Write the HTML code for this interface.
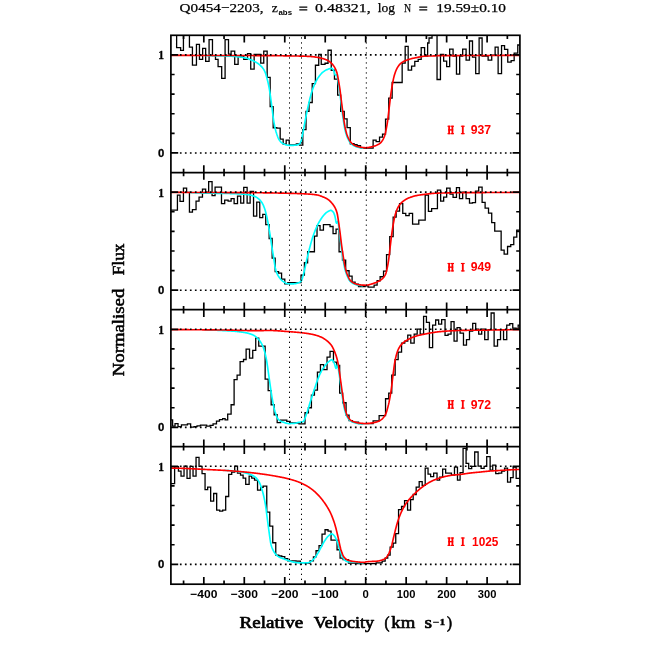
<!DOCTYPE html>
<html><head><meta charset="utf-8"><title>Q0454-2203</title>
<style>html,body{margin:0;padding:0;background:#fff;}svg{display:block;will-change:transform;font-family:"Liberation Sans",sans-serif;}</style></head>
<body>
<svg width="654" height="654" viewBox="0 0 654 654">
<rect width="654" height="654" fill="#fff"/>
<defs>
<clipPath id="c0"><rect x="170.9" y="35.3" width="349.0" height="137.25"/></clipPath>
<clipPath id="c1"><rect x="170.9" y="172.55" width="349.0" height="137.14999999999998"/></clipPath>
<clipPath id="c2"><rect x="170.9" y="309.7" width="349.0" height="137.0"/></clipPath>
<clipPath id="c3"><rect x="170.9" y="446.7" width="349.0" height="137.50000000000006"/></clipPath>
</defs>
<g clip-path="url(#c0)" fill="none" stroke-linejoin="miter">
<path d="M170.90,30.00H176.62V47.63H180.62V50.43H183.43V30.00H189.44V47.03H192.44V65.05H196.45V44.42H199.45V59.44H202.66V48.43H205.66V61.45H209.07V39.61H212.47V55.64H215.48V59.44H218.08V66.66H221.69V78.47H225.09V39.61H228.50V54.04H231.10V51.03H234.71V64.45H238.11V56.04H243.72V59.44H247.53V53.64H250.73V69.06H254.14V54.44H260.75V63.05H263.75V51.03H267.16V77.47H270.16V106.72H273.17V127.75H276.77V128.15H280.18V139.17H283.18V144.17H286.19V140.17H289.19V144.78H292.59V144.78H296.30V143.97H299.51V145.18H302.81V129.55H306.02V111.32H309.02V102.51H312.22V83.68H315.43V65.25H318.73V54.44H321.24V64.45H325.04V63.25H328.05V50.23H331.25V70.26H334.46V79.07H337.66V95.10H340.67V111.32H344.27V118.94H347.08V127.55H350.28V143.77H354.09V144.57H357.09V145.58H360.50V147.78H364.10V148.18H373.12V140.17H376.12V141.57H379.53V137.16H382.53V134.16H385.54V119.14H388.74V98.10H392.15V82.48H402.16V63.05H405.17V46.43H408.17V70.06H411.58V66.06H414.78V61.45H418.19V59.44H421.19V47.63H424.60V56.04H427.63V43.02H429.03V38.01H432.03V30.00H437.04V79.48H440.45V54.44H443.65V61.05H446.66V66.66H449.66V49.03H453.07V56.04H456.47V74.07H459.68V56.04H462.68V49.03H466.09V60.05H469.49V41.02H472.50V57.04H475.70V73.67H479.11V38.01H482.11V56.04H488.12V60.05H491.72V55.04H495.13V47.03H498.13V73.67H501.54V45.62H504.54V49.43H507.75V62.05H511.15V60.65H514.16V53.04H517.76V45.02H519.77V45.02H519.90" stroke="#000" stroke-width="1.3"/>
<path d="M205.00,55.50L205.50,55.52L206.00,55.53L206.50,55.55L207.00,55.56L207.50,55.58L208.00,55.59L208.50,55.61L209.00,55.62L209.50,55.64L210.00,55.65L210.50,55.67L211.00,55.68L211.50,55.69L212.00,55.71L212.50,55.72L213.00,55.74L213.50,55.75L214.00,55.76L214.50,55.77L215.00,55.78L215.50,55.80L216.00,55.81L216.50,55.82L217.00,55.83L217.50,55.84L218.00,55.85L218.50,55.86L219.00,55.87L219.50,55.88L220.00,55.89L220.50,55.90L221.00,55.92L221.50,55.93L222.00,55.94L222.50,55.95L223.00,55.96L223.50,55.97L224.00,55.99L224.50,56.00L225.00,56.01L225.50,56.03L226.00,56.04L226.50,56.06L227.00,56.07L227.50,56.09L228.00,56.11L228.50,56.13L229.00,56.14L229.50,56.16L230.00,56.18L230.50,56.20L231.00,56.23L231.50,56.25L232.00,56.28L232.50,56.31L233.00,56.34L233.50,56.38L234.00,56.42L234.50,56.45L235.00,56.50L235.50,56.54L236.00,56.58L236.50,56.63L237.00,56.68L237.50,56.73L238.00,56.78L238.50,56.83L239.00,56.89L239.50,56.95L240.00,57.01L240.50,57.08L241.00,57.15L241.50,57.23L242.00,57.31L242.50,57.39L243.00,57.48L243.50,57.57L244.00,57.67L244.50,57.77L245.00,57.88L245.50,57.99L246.00,58.10L246.50,58.23L247.00,58.37L247.50,58.52L248.00,58.69L248.50,58.87L249.00,59.06L249.50,59.25L250.00,59.46L250.50,59.67L251.00,59.88L251.50,60.10L252.00,60.31L252.50,60.53L253.00,60.75L253.50,60.98L254.00,61.21L254.50,61.46L255.00,61.71L255.50,61.98L256.00,62.26L256.50,62.55L257.00,62.86L257.50,63.19L258.00,63.53L258.50,63.90L259.00,64.28L259.50,64.69L260.00,65.12L260.50,65.58L261.00,66.07L261.50,66.59L262.00,67.15L262.50,67.75L263.00,68.41L263.50,69.15L264.00,69.98L264.50,70.90L265.00,71.96L265.50,73.27L266.00,74.80L266.50,76.51L267.00,78.36L267.50,80.30L268.00,82.32L268.50,84.58L269.00,87.10L269.50,89.88L270.00,93.04L270.50,96.54L271.00,100.25L271.50,104.02L272.00,107.74L272.50,111.72L273.00,115.78L273.50,119.51L274.00,122.53L274.50,125.19L275.00,127.62L275.50,129.79L276.00,131.69L276.50,133.33L277.00,134.84L277.50,136.23L278.00,137.50L278.50,138.62L279.00,139.57L279.50,140.34L280.00,141.00L280.50,141.59L281.00,142.11L281.50,142.57L282.00,142.97L282.50,143.30L283.00,143.59L283.50,143.86L284.00,144.11L284.50,144.33L285.00,144.53L285.50,144.70L286.00,144.83L286.50,144.94L287.00,145.04L287.50,145.13L288.00,145.21L288.50,145.29L289.00,145.34L289.50,145.38L290.00,145.40L290.50,145.40L291.00,145.39L291.50,145.38L292.00,145.37L292.50,145.35L293.00,145.33L293.50,145.31L294.00,145.29L294.50,145.26L295.00,145.22L295.50,145.17L296.00,145.10L296.50,145.02L297.00,144.93L297.50,144.83L298.00,144.71L298.50,144.57L299.00,144.33L299.50,143.96L300.00,143.46L300.50,142.77L301.00,141.39L301.50,139.40L302.00,137.03L302.50,134.52L303.00,132.10L303.50,129.68L304.00,127.06L304.50,124.34L305.00,121.60L305.50,118.93L306.00,116.40L306.50,113.93L307.00,111.50L307.50,109.12L308.00,106.81L308.50,104.60L309.00,102.45L309.50,100.33L310.00,98.28L310.50,96.33L311.00,94.51L311.50,92.85L312.00,91.28L312.50,89.78L313.00,88.35L313.50,87.00L314.00,85.72L314.50,84.52L315.00,83.40L315.50,82.35L316.00,81.35L316.50,80.40L317.00,79.50L317.50,78.66L318.00,77.87L318.50,77.14L319.00,76.46L319.50,75.79L320.00,75.16L320.50,74.55L321.00,73.98L321.50,73.43L322.00,72.93L322.50,72.47L323.00,72.05L323.50,71.68L324.00,71.32L324.50,70.98L325.00,70.66L325.50,70.36L326.00,70.09L326.50,69.83L327.00,69.61L327.50,69.41L328.00,69.23L328.50,69.06L329.00,68.89L329.50,68.74L330.00,68.60L330.50,68.50L331.00,68.43L331.50,68.40L332.00,68.56L332.50,68.97L333.00,69.58L333.50,70.30L334.00,71.33L334.50,73.20L335.00,74.85L335.50,75.17L336.00,74.96L336.50,74.73L337.00,75.05L337.50,78.07L338.00,81.17L338.50,84.04L339.00,87.12L339.50,90.45L340.00,94.13L340.50,98.28L341.00,102.40L341.50,106.42L342.00,110.38L342.50,114.27L343.00,117.93L343.50,121.37L344.00,124.51L344.50,127.38L345.00,129.81L345.50,131.86L346.00,133.67L346.50,135.30L347.00,136.70L347.50,137.90L348.00,138.98L348.50,139.97L349.00,140.86L349.50,141.65L350.00,142.33L350.50,142.93L351.00,143.47L351.50,143.96L352.00,144.42L352.50,144.83L353.00,145.20L353.50,145.52L354.00,145.80L354.50,146.05L355.00,146.28L355.50,146.49L356.00,146.69L356.50,146.87L357.00,147.02L357.50,147.16L358.00,147.28L358.50,147.38L359.00,147.48L359.50,147.58L360.00,147.67L360.50,147.76L361.00,147.84L361.50,147.92L362.00,147.99L362.50,148.05" stroke="#00ffff" stroke-width="1.65" stroke-linecap="round" stroke-linejoin="round"/>
<path d="M171.01,55.44L171.51,55.44L172.01,55.44L172.51,55.44L173.01,55.44L173.51,55.44L174.01,55.44L174.51,55.44L175.01,55.44L175.51,55.44L176.01,55.44L176.51,55.44L177.01,55.44L177.51,55.44L178.01,55.44L178.51,55.44L179.01,55.44L179.51,55.44L180.01,55.44L180.51,55.44L181.01,55.44L181.51,55.44L182.01,55.44L182.51,55.44L183.01,55.44L183.51,55.44L184.01,55.44L184.51,55.44L185.01,55.44L185.51,55.44L186.01,55.44L186.51,55.44L187.01,55.44L187.51,55.44L188.01,55.44L188.51,55.44L189.01,55.44L189.51,55.44L190.01,55.44L190.51,55.44L191.01,55.44L191.51,55.44L192.01,55.44L192.51,55.45L193.01,55.45L193.51,55.45L194.01,55.45L194.51,55.45L195.01,55.45L195.51,55.45L196.01,55.45L196.51,55.45L197.01,55.45L197.51,55.45L198.01,55.45L198.51,55.45L199.01,55.45L199.51,55.45L200.01,55.45L200.51,55.45L201.01,55.45L201.51,55.45L202.01,55.45L202.51,55.45L203.01,55.45L203.51,55.45L204.01,55.45L204.51,55.45L205.01,55.45L205.51,55.46L206.01,55.46L206.51,55.46L207.01,55.46L207.51,55.46L208.01,55.46L208.51,55.46L209.01,55.46L209.51,55.46L210.01,55.46L210.51,55.46L211.01,55.46L211.51,55.46L212.01,55.46L212.51,55.46L213.01,55.46L213.51,55.46L214.01,55.47L214.51,55.47L215.01,55.47L215.51,55.47L216.01,55.47L216.51,55.47L217.01,55.47L217.51,55.47L218.01,55.47L218.51,55.47L219.01,55.47L219.51,55.47L220.01,55.47L220.51,55.47L221.01,55.48L221.51,55.48L222.01,55.48L222.51,55.48L223.01,55.48L223.51,55.48L224.01,55.48L224.51,55.48L225.01,55.48L225.51,55.48L226.01,55.48L226.51,55.48L227.01,55.49L227.51,55.49L228.01,55.49L228.51,55.49L229.01,55.49L229.51,55.49L230.01,55.49L230.51,55.49L231.01,55.49L231.51,55.49L232.01,55.49L232.51,55.50L233.01,55.50L233.51,55.50L234.01,55.50L234.51,55.50L235.01,55.50L235.51,55.50L236.01,55.50L236.51,55.50L237.01,55.50L237.51,55.51L238.01,55.51L238.51,55.51L239.01,55.51L239.51,55.51L240.01,55.51L240.51,55.51L241.01,55.51L241.51,55.51L242.01,55.52L242.51,55.52L243.01,55.52L243.51,55.52L244.01,55.52L244.51,55.52L245.01,55.52L245.51,55.52L246.01,55.53L246.51,55.53L247.01,55.53L247.51,55.53L248.01,55.53L248.51,55.53L249.01,55.53L249.51,55.54L250.01,55.54L250.51,55.54L251.01,55.54L251.51,55.54L252.01,55.54L252.51,55.54L253.01,55.54L253.51,55.55L254.01,55.55L254.51,55.55L255.01,55.55L255.51,55.55L256.01,55.55L256.51,55.56L257.01,55.56L257.51,55.56L258.01,55.56L258.51,55.56L259.01,55.56L259.51,55.56L260.01,55.57L260.51,55.57L261.01,55.57L261.51,55.57L262.01,55.57L262.51,55.57L263.01,55.58L263.51,55.58L264.01,55.58L264.51,55.58L265.01,55.58L265.51,55.58L266.01,55.59L266.51,55.59L267.01,55.59L267.51,55.59L268.01,55.59L268.51,55.59L269.01,55.60L269.51,55.60L270.01,55.60L270.51,55.60L271.01,55.61L271.51,55.61L272.01,55.61L272.51,55.62L273.01,55.62L273.51,55.63L274.01,55.63L274.51,55.64L275.01,55.65L275.51,55.66L276.01,55.66L276.51,55.67L277.01,55.68L277.51,55.69L278.01,55.70L278.51,55.71L279.01,55.72L279.51,55.73L280.01,55.74L280.51,55.75L281.01,55.76L281.51,55.77L282.01,55.78L282.51,55.79L283.01,55.80L283.51,55.81L284.01,55.82L284.51,55.83L285.01,55.84L285.51,55.85L286.01,55.86L286.51,55.87L287.01,55.88L287.51,55.89L288.01,55.90L288.51,55.90L289.01,55.91L289.51,55.92L290.01,55.93L290.51,55.93L291.01,55.94L291.51,55.95L292.01,55.95L292.51,55.96L293.01,55.97L293.51,55.97L294.01,55.98L294.51,55.98L295.01,55.99L295.51,56.00L296.01,56.01L296.51,56.01L297.01,56.02L297.51,56.03L298.01,56.04L298.51,56.05L299.01,56.05L299.51,56.06L300.01,56.07L300.51,56.08L301.01,56.10L301.51,56.11L302.01,56.12L302.51,56.13L303.01,56.15L303.51,56.16L304.01,56.18L304.51,56.20L305.01,56.22L305.51,56.24L306.01,56.26L306.51,56.28L307.01,56.31L307.51,56.33L308.01,56.36L308.51,56.39L309.01,56.41L309.51,56.44L310.01,56.47L310.51,56.51L311.01,56.54L311.51,56.58L312.01,56.63L312.51,56.68L313.01,56.73L313.51,56.79L314.01,56.85L314.51,56.92L315.01,56.99L315.51,57.06L316.01,57.13L316.51,57.21L317.01,57.29L317.51,57.37L318.01,57.45L318.51,57.54L319.01,57.64L319.51,57.74L320.01,57.86L320.51,57.97L321.01,58.10L321.51,58.23L322.01,58.36L322.51,58.50L323.01,58.64L323.51,58.79L324.01,58.95L324.51,59.11L325.01,59.29L325.51,59.47L326.01,59.67L326.51,59.88L327.01,60.11L327.51,60.35L328.01,60.61L328.51,60.90L329.01,61.23L329.51,61.59L330.01,61.98L330.51,62.39L331.01,62.84L331.51,63.31L332.01,63.81L332.51,64.37L333.01,64.98L333.51,65.64L334.01,66.37L334.51,67.17L335.01,68.06L335.51,69.05L336.01,70.20L336.51,71.54L337.01,73.09L337.51,75.14L338.01,77.86L338.51,80.75L339.01,83.62L339.51,86.66L340.01,89.96L340.51,93.74L341.01,97.86L341.51,101.98L342.01,105.96L342.51,109.97L343.01,113.86L343.51,117.46L344.01,120.87L344.51,124.11L345.01,126.98L345.51,129.32L346.01,131.37L346.51,133.21L347.01,134.83L347.51,136.23L348.01,137.42L348.51,138.50L349.01,139.49L349.51,140.37L350.01,141.16L350.51,141.85L351.01,142.44L351.51,142.97L352.01,143.47L352.51,143.92L353.01,144.34L353.51,144.70L354.01,145.03L354.51,145.30L355.01,145.55L355.51,145.78L356.01,146.00L356.51,146.19L357.01,146.37L357.51,146.53L358.01,146.67L358.51,146.78L359.01,146.88L359.51,146.98L360.01,147.08L360.51,147.17L361.01,147.26L361.51,147.35L362.01,147.42L362.51,147.49L363.01,147.55L363.51,147.61L364.01,147.65L364.51,147.68L365.01,147.70L365.51,147.70L366.01,147.69L366.51,147.67L367.01,147.63L367.51,147.58L368.01,147.52L368.51,147.45L369.01,147.37L369.51,147.28L370.01,147.18L370.51,147.07L371.01,146.96L371.51,146.85L372.01,146.73L372.51,146.60L373.01,146.47L373.51,146.34L374.01,146.21L374.51,146.07L375.01,145.91L375.51,145.74L376.01,145.55L376.51,145.34L377.01,145.11L377.51,144.86L378.01,144.59L378.51,144.30L379.01,143.98L379.51,143.63L380.01,143.26L380.51,142.85L381.01,142.36L381.51,141.77L382.01,141.10L382.51,140.33L383.01,139.47L383.51,138.51L384.01,137.45L384.51,136.19L385.01,134.53L385.51,132.52L386.01,130.20L386.51,127.64L387.01,124.88L387.51,121.74L388.01,117.81L388.51,113.49L389.01,109.20L389.51,105.10L390.01,100.86L390.51,96.74L391.01,93.00L391.51,89.76L392.01,86.67L392.51,83.75L393.01,81.06L393.51,78.66L394.01,76.59L394.51,74.83L395.01,73.23L395.51,71.77L396.01,70.46L396.51,69.31L397.01,68.32L397.51,67.46L398.01,66.66L398.51,65.92L399.01,65.24L399.51,64.62L400.01,64.07L400.51,63.58L401.01,63.16L401.51,62.80L402.01,62.47L402.51,62.15L403.01,61.85L403.51,61.58L404.01,61.32L404.51,61.07L405.01,60.84L405.51,60.63L406.01,60.42L406.51,60.23L407.01,60.05L407.51,59.87L408.01,59.70L408.51,59.53L409.01,59.38L409.51,59.22L410.01,59.08L410.51,58.93L411.01,58.80L411.51,58.67L412.01,58.54L412.51,58.42L413.01,58.30L413.51,58.19L414.01,58.08L414.51,57.97L415.01,57.87L415.51,57.77L416.01,57.68L416.51,57.58L417.01,57.48L417.51,57.38L418.01,57.28L418.51,57.18L419.01,57.08L419.51,56.98L420.01,56.88L420.51,56.78L421.01,56.69L421.51,56.60L422.01,56.51L422.51,56.43L423.01,56.36L423.51,56.29L424.01,56.23L424.51,56.17L425.01,56.13L425.51,56.09L426.01,56.06L426.51,56.05L427.01,56.04L427.51,56.04L428.01,56.04L428.51,56.04L429.01,56.04L429.51,56.04L430.01,56.04L430.51,56.04L431.01,56.03L431.51,56.02L432.01,56.00L432.51,55.98L433.01,55.96L433.51,55.93L434.01,55.91L434.51,55.88L435.01,55.85L435.51,55.82L436.01,55.79L436.51,55.76L437.01,55.74L437.51,55.71L438.01,55.69L438.51,55.67L439.01,55.66L439.51,55.65L440.01,55.64L440.51,55.64L441.01,55.63L441.51,55.63L442.01,55.63L442.51,55.62L443.01,55.62L443.51,55.62L444.01,55.62L444.51,55.61L445.01,55.61L445.51,55.61L446.01,55.60L446.51,55.60L447.01,55.60L447.51,55.60L448.01,55.59L448.51,55.59L449.01,55.59L449.51,55.59L450.01,55.58L450.51,55.58L451.01,55.58L451.51,55.58L452.01,55.57L452.51,55.57L453.01,55.57L453.51,55.57L454.01,55.56L454.51,55.56L455.01,55.56L455.51,55.56L456.01,55.56L456.51,55.55L457.01,55.55L457.51,55.55L458.01,55.55L458.51,55.55L459.01,55.54L459.51,55.54L460.01,55.54L460.51,55.54L461.01,55.54L461.51,55.53L462.01,55.53L462.51,55.53L463.01,55.53L463.51,55.53L464.01,55.52L464.51,55.52L465.01,55.52L465.51,55.52L466.01,55.52L466.51,55.52L467.01,55.51L467.51,55.51L468.01,55.51L468.51,55.51L469.01,55.51L469.51,55.51L470.01,55.50L470.51,55.50L471.01,55.50L471.51,55.50L472.01,55.50L472.51,55.50L473.01,55.50L473.51,55.49L474.01,55.49L474.51,55.49L475.01,55.49L475.51,55.49L476.01,55.49L476.51,55.49L477.01,55.48L477.51,55.48L478.01,55.48L478.51,55.48L479.01,55.48L479.51,55.48L480.01,55.48L480.51,55.48L481.01,55.48L481.51,55.47L482.01,55.47L482.51,55.47L483.01,55.47L483.51,55.47L484.01,55.47L484.51,55.47L485.01,55.47L485.51,55.47L486.01,55.47L486.51,55.46L487.01,55.46L487.51,55.46L488.01,55.46L488.51,55.46L489.01,55.46L489.51,55.46L490.01,55.46L490.51,55.46L491.01,55.46L491.51,55.46L492.01,55.46L492.51,55.46L493.01,55.45L493.51,55.45L494.01,55.45L494.51,55.45L495.01,55.45L495.51,55.45L496.01,55.45L496.51,55.45L497.01,55.45L497.51,55.45L498.01,55.45L498.51,55.45L499.01,55.45L499.51,55.45L500.01,55.45L500.51,55.45L501.01,55.45L501.51,55.45L502.01,55.45L502.51,55.44L503.01,55.44L503.51,55.44L504.01,55.44L504.51,55.44L505.01,55.44L505.51,55.44L506.01,55.44L506.51,55.44L507.01,55.44L507.51,55.44L508.01,55.44L508.51,55.44L509.01,55.44L509.51,55.44L510.01,55.44L510.51,55.44L511.01,55.44L511.51,55.44L512.01,55.44L512.51,55.44L513.01,55.44L513.51,55.44L514.01,55.44L514.51,55.44L515.01,55.44L515.51,55.44L516.01,55.44L516.51,55.44L517.01,55.44L517.51,55.44L518.01,55.44L518.51,55.44L519.01,55.44L519.51,55.44" stroke="#ff0000" stroke-width="1.65" stroke-linejoin="round"/>
<path d="M179.9,54.90H512.9" stroke="#000" stroke-width="1.6" stroke-dasharray="1.7 3.3"/>
<path d="M179.9,152.95H512.9" stroke="#000" stroke-width="1.6" stroke-dasharray="1.7 3.3"/>
<path d="M289.50,37.30V172.55" stroke="#000" stroke-width="1.0" stroke-dasharray="1.3 3.7"/>
<path d="M301.50,37.30V172.55" stroke="#000" stroke-width="1.0" stroke-dasharray="1.3 3.7"/>
<path d="M366.30,37.30V172.55" stroke="#000" stroke-width="1.0" stroke-dasharray="1.3 3.7"/>
</g>
<g clip-path="url(#c1)" fill="none" stroke-linejoin="miter">
<path d="M170.90,210.07H177.42V195.04H180.02V201.45H183.43V188.03H186.63V192.44H189.44V212.07H192.44V209.67H196.05V201.05H199.05V197.05H202.46V189.03H205.66V192.04H208.67V181.62H212.07V195.64H215.08V187.03H221.49V203.66H224.69V200.05H228.10V201.05H231.10V198.65H234.11V203.66H237.51V196.04H240.72V203.06H243.72V187.43H247.13V203.06H250.13V191.44H253.54V216.07H256.74V202.05H259.74V217.68H262.75V214.47H265.75V224.69H269.16V238.51H272.16V258.14H275.17V271.56H278.57V273.16H281.58V279.17H284.78V283.78H287.79V282.58H296.00V282.58H301.01V275.17H304.41V262.75H307.62V251.73H314.43V236.11H317.03V225.69H320.04V230.10H323.44V224.69H330.05V226.49H333.06V233.70H336.06V229.09H339.07V251.73H342.47V260.14H345.68V270.76H349.08V276.17H352.09V282.18H355.09V284.18H358.50V286.58H365.11V285.78H368.11V287.18H374.12V285.18H377.12V280.77H380.13V276.77H383.53V271.16H386.54V254.53H389.74V236.71H393.15V217.08H396.15V211.07H399.56V203.66H402.76V213.47H405.77V215.67H409.17V213.47H412.58V224.09H418.79V220.08H425.20V195.04H428.43V211.47H431.63V208.66H437.44V190.04H440.65V201.05H443.65V197.05H446.66V188.03H450.06V194.04H453.07V197.45H456.47V187.63H459.48V198.65H462.68V192.04H466.09V198.65H469.49V203.06H472.50V202.65H475.50V191.04H478.70V187.03H482.11V202.45H485.11V208.06H488.52V213.07H491.72V222.69H494.73V231.10H501.14V250.13H504.14V254.13H507.55V246.52H510.75V244.72H513.76V237.11H516.76V230.10H519.77V230.10H519.90" stroke="#000" stroke-width="1.3"/>
<path d="M190.00,192.50L190.50,192.53L191.00,192.56L191.50,192.59L192.00,192.62L192.50,192.64L193.00,192.67L193.50,192.70L194.00,192.73L194.50,192.76L195.00,192.78L195.50,192.81L196.00,192.84L196.50,192.86L197.00,192.88L197.50,192.91L198.00,192.93L198.50,192.95L199.00,192.97L199.50,192.98L200.00,193.00L200.50,193.01L201.00,193.03L201.50,193.04L202.00,193.06L202.50,193.07L203.00,193.08L203.50,193.09L204.00,193.10L204.50,193.12L205.00,193.13L205.50,193.14L206.00,193.15L206.50,193.16L207.00,193.17L207.50,193.18L208.00,193.18L208.50,193.19L209.00,193.20L209.50,193.21L210.00,193.22L210.50,193.23L211.00,193.23L211.50,193.24L212.00,193.25L212.50,193.26L213.00,193.26L213.50,193.27L214.00,193.28L214.50,193.28L215.00,193.29L215.50,193.30L216.00,193.30L216.50,193.31L217.00,193.32L217.50,193.32L218.00,193.33L218.50,193.34L219.00,193.35L219.50,193.35L220.00,193.36L220.50,193.37L221.00,193.38L221.50,193.38L222.00,193.39L222.50,193.40L223.00,193.41L223.50,193.42L224.00,193.43L224.50,193.44L225.00,193.45L225.50,193.46L226.00,193.47L226.50,193.48L227.00,193.49L227.50,193.50L228.00,193.51L228.50,193.52L229.00,193.54L229.50,193.55L230.00,193.56L230.50,193.58L231.00,193.59L231.50,193.61L232.00,193.62L232.50,193.64L233.00,193.66L233.50,193.68L234.00,193.69L234.50,193.71L235.00,193.73L235.50,193.75L236.00,193.77L236.50,193.79L237.00,193.81L237.50,193.84L238.00,193.86L238.50,193.89L239.00,193.91L239.50,193.94L240.00,193.97L240.50,194.00L241.00,194.03L241.50,194.06L242.00,194.10L242.50,194.13L243.00,194.17L243.50,194.21L244.00,194.25L244.50,194.29L245.00,194.33L245.50,194.38L246.00,194.42L246.50,194.47L247.00,194.52L247.50,194.58L248.00,194.65L248.50,194.73L249.00,194.82L249.50,194.91L250.00,195.02L250.50,195.14L251.00,195.26L251.50,195.40L252.00,195.54L252.50,195.69L253.00,195.85L253.50,196.01L254.00,196.18L254.50,196.36L255.00,196.56L255.50,196.79L256.00,197.06L256.50,197.36L257.00,197.68L257.50,198.04L258.00,198.41L258.50,198.82L259.00,199.24L259.50,199.68L260.00,200.17L260.50,200.72L261.00,201.33L261.50,202.01L262.00,202.75L262.50,203.57L263.00,204.53L263.50,205.66L264.00,206.93L264.50,208.32L265.00,209.83L265.50,211.56L266.00,213.47L266.50,215.55L267.00,217.75L267.50,220.10L268.00,222.69L268.50,225.45L269.00,228.34L269.50,231.30L270.00,234.42L270.50,237.71L271.00,241.06L271.50,244.37L272.00,247.56L272.50,250.64L273.00,253.69L273.50,256.73L274.00,259.78L274.50,263.10L275.00,266.55L275.50,269.10L276.00,270.74L276.50,272.17L277.00,273.41L277.50,274.49L278.00,275.43L278.50,276.27L279.00,277.02L279.50,277.71L280.00,278.36L280.50,278.97L281.00,279.54L281.50,280.06L282.00,280.54L282.50,280.98L283.00,281.37L283.50,281.71L284.00,282.02L284.50,282.32L285.00,282.62L285.50,282.90L286.00,283.16L286.50,283.39L287.00,283.57L287.50,283.71L288.00,283.79L288.50,283.80L289.00,283.80L289.50,283.80L290.00,283.80L290.50,283.80L291.00,283.80L291.50,283.80L292.00,283.80L292.50,283.80L293.00,283.80L293.50,283.80L294.00,283.80L294.50,283.78L295.00,283.72L295.50,283.64L296.00,283.53L296.50,283.40L297.00,283.26L297.50,283.10L298.00,282.94L298.50,282.77L299.00,282.57L299.50,282.33L300.00,282.03L300.50,281.66L301.00,281.21L301.50,280.57L302.00,279.44L302.50,277.90L303.00,276.11L303.50,274.20L304.00,272.33L304.50,270.26L305.00,267.97L305.50,265.55L306.00,263.11L306.50,260.78L307.00,258.62L307.50,256.51L308.00,254.44L308.50,252.42L309.00,250.45L309.50,248.52L310.00,246.61L310.50,244.72L311.00,242.88L311.50,241.11L312.00,239.44L312.50,237.87L313.00,236.37L313.50,234.91L314.00,233.52L314.50,232.17L315.00,230.88L315.50,229.65L316.00,228.47L316.50,227.33L317.00,226.24L317.50,225.19L318.00,224.17L318.50,223.21L319.00,222.28L319.50,221.40L320.00,220.55L320.50,219.73L321.00,218.94L321.50,218.19L322.00,217.46L322.50,216.78L323.00,216.14L323.50,215.54L324.00,214.95L324.50,214.38L325.00,213.84L325.50,213.33L326.00,212.87L326.50,212.47L327.00,212.14L327.50,211.82L328.00,211.51L328.50,211.21L329.00,210.94L329.50,210.71L330.00,210.53L330.50,210.43L331.00,210.40L331.50,210.55L332.00,210.86L332.50,211.31L333.00,211.85L333.50,212.48L334.00,213.49L334.50,214.85L335.00,216.46L335.50,218.90L336.00,222.05L336.50,223.18L337.00,222.51L337.50,221.58L338.00,221.37L338.50,224.76L339.00,229.06L339.50,232.91L340.00,236.87L340.50,240.99L341.00,244.95L341.50,248.61L342.00,252.10L342.50,255.42L343.00,258.62L343.50,261.79L344.00,264.68L344.50,267.29L345.00,269.50L345.50,271.30L346.00,272.87L346.50,274.27L347.00,275.54L347.50,276.69L348.00,277.76L348.50,278.78L349.00,279.70L349.50,280.51L350.00,281.18L350.50,281.69L351.00,282.12L351.50,282.51L352.00,282.85L352.50,283.16L353.00,283.43L353.50,283.67L354.00,283.90L354.50,284.11L355.00,284.32L355.50,284.51L356.00,284.69L356.50,284.85L357.00,284.99L357.50,285.10L358.00,285.19L358.50,285.25L359.00,285.31L359.50,285.37L360.00,285.42L360.50,285.47L361.00,285.52L361.50,285.56L362.00,285.59L362.50,285.63" stroke="#00ffff" stroke-width="1.65" stroke-linecap="round" stroke-linejoin="round"/>
<path d="M171.01,192.44L171.51,192.44L172.01,192.44L172.51,192.44L173.01,192.44L173.51,192.44L174.01,192.44L174.51,192.44L175.01,192.44L175.51,192.44L176.01,192.44L176.51,192.44L177.01,192.44L177.51,192.44L178.01,192.44L178.51,192.44L179.01,192.44L179.51,192.44L180.01,192.44L180.51,192.44L181.01,192.44L181.51,192.44L182.01,192.44L182.51,192.44L183.01,192.45L183.51,192.45L184.01,192.45L184.51,192.45L185.01,192.45L185.51,192.45L186.01,192.45L186.51,192.45L187.01,192.45L187.51,192.45L188.01,192.45L188.51,192.45L189.01,192.45L189.51,192.45L190.01,192.45L190.51,192.46L191.01,192.46L191.51,192.46L192.01,192.46L192.51,192.46L193.01,192.46L193.51,192.46L194.01,192.46L194.51,192.46L195.01,192.46L195.51,192.46L196.01,192.47L196.51,192.47L197.01,192.47L197.51,192.47L198.01,192.47L198.51,192.47L199.01,192.47L199.51,192.47L200.01,192.47L200.51,192.48L201.01,192.48L201.51,192.48L202.01,192.48L202.51,192.48L203.01,192.48L203.51,192.48L204.01,192.48L204.51,192.49L205.01,192.49L205.51,192.49L206.01,192.49L206.51,192.49L207.01,192.49L207.51,192.49L208.01,192.49L208.51,192.50L209.01,192.50L209.51,192.50L210.01,192.50L210.51,192.50L211.01,192.50L211.51,192.51L212.01,192.51L212.51,192.51L213.01,192.51L213.51,192.51L214.01,192.51L214.51,192.51L215.01,192.52L215.51,192.52L216.01,192.52L216.51,192.52L217.01,192.52L217.51,192.52L218.01,192.53L218.51,192.53L219.01,192.53L219.51,192.53L220.01,192.53L220.51,192.54L221.01,192.54L221.51,192.54L222.01,192.54L222.51,192.54L223.01,192.54L223.51,192.55L224.01,192.55L224.51,192.55L225.01,192.55L225.51,192.55L226.01,192.56L226.51,192.56L227.01,192.56L227.51,192.56L228.01,192.56L228.51,192.57L229.01,192.57L229.51,192.57L230.01,192.57L230.51,192.57L231.01,192.58L231.51,192.58L232.01,192.58L232.51,192.58L233.01,192.58L233.51,192.59L234.01,192.59L234.51,192.59L235.01,192.59L235.51,192.60L236.01,192.60L236.51,192.60L237.01,192.60L237.51,192.60L238.01,192.61L238.51,192.61L239.01,192.61L239.51,192.61L240.01,192.62L240.51,192.62L241.01,192.62L241.51,192.62L242.01,192.62L242.51,192.63L243.01,192.63L243.51,192.63L244.01,192.63L244.51,192.64L245.01,192.64L245.51,192.64L246.01,192.64L246.51,192.65L247.01,192.65L247.51,192.65L248.01,192.66L248.51,192.66L249.01,192.66L249.51,192.67L250.01,192.67L250.51,192.67L251.01,192.68L251.51,192.68L252.01,192.69L252.51,192.69L253.01,192.69L253.51,192.70L254.01,192.70L254.51,192.71L255.01,192.71L255.51,192.72L256.01,192.72L256.51,192.73L257.01,192.73L257.51,192.74L258.01,192.74L258.51,192.75L259.01,192.76L259.51,192.76L260.01,192.77L260.51,192.77L261.01,192.78L261.51,192.79L262.01,192.79L262.51,192.80L263.01,192.80L263.51,192.81L264.01,192.82L264.51,192.82L265.01,192.83L265.51,192.84L266.01,192.84L266.51,192.85L267.01,192.86L267.51,192.86L268.01,192.87L268.51,192.88L269.01,192.89L269.51,192.89L270.01,192.90L270.51,192.91L271.01,192.92L271.51,192.92L272.01,192.93L272.51,192.94L273.01,192.95L273.51,192.96L274.01,192.97L274.51,192.98L275.01,192.99L275.51,193.00L276.01,193.01L276.51,193.02L277.01,193.03L277.51,193.04L278.01,193.05L278.51,193.06L279.01,193.07L279.51,193.08L280.01,193.09L280.51,193.11L281.01,193.12L281.51,193.13L282.01,193.14L282.51,193.15L283.01,193.17L283.51,193.18L284.01,193.19L284.51,193.20L285.01,193.22L285.51,193.23L286.01,193.24L286.51,193.25L287.01,193.27L287.51,193.28L288.01,193.29L288.51,193.31L289.01,193.32L289.51,193.33L290.01,193.34L290.51,193.36L291.01,193.37L291.51,193.38L292.01,193.40L292.51,193.41L293.01,193.43L293.51,193.44L294.01,193.46L294.51,193.47L295.01,193.48L295.51,193.50L296.01,193.52L296.51,193.53L297.01,193.55L297.51,193.56L298.01,193.58L298.51,193.60L299.01,193.62L299.51,193.63L300.01,193.65L300.51,193.67L301.01,193.69L301.51,193.71L302.01,193.73L302.51,193.75L303.01,193.78L303.51,193.80L304.01,193.82L304.51,193.84L305.01,193.87L305.51,193.89L306.01,193.92L306.51,193.95L307.01,193.97L307.51,194.00L308.01,194.03L308.51,194.07L309.01,194.10L309.51,194.13L310.01,194.17L310.51,194.21L311.01,194.25L311.51,194.29L312.01,194.34L312.51,194.38L313.01,194.43L313.51,194.49L314.01,194.55L314.51,194.61L315.01,194.67L315.51,194.74L316.01,194.82L316.51,194.89L317.01,194.98L317.51,195.06L318.01,195.16L318.51,195.28L319.01,195.42L319.51,195.57L320.01,195.74L320.51,195.92L321.01,196.11L321.51,196.31L322.01,196.51L322.51,196.71L323.01,196.92L323.51,197.13L324.01,197.34L324.51,197.55L325.01,197.78L325.51,198.01L326.01,198.26L326.51,198.53L327.01,198.81L327.51,199.11L328.01,199.44L328.51,199.81L329.01,200.22L329.51,200.66L330.01,201.14L330.51,201.64L331.01,202.16L331.51,202.71L332.01,203.27L332.51,203.87L333.01,204.50L333.51,205.19L334.01,205.94L334.51,206.76L335.01,207.67L335.51,208.67L336.01,209.81L336.51,211.16L337.01,212.77L337.51,215.01L338.01,218.11L338.51,221.46L339.01,224.92L339.51,228.65L340.01,232.47L340.51,236.46L341.01,240.57L341.51,244.52L342.01,248.17L342.51,251.66L343.01,255.00L343.51,258.16L344.01,261.26L344.51,264.27L345.01,266.92L345.51,269.02L346.01,270.81L346.51,272.40L347.01,273.81L347.51,275.06L348.01,276.19L348.51,277.28L349.01,278.30L349.51,279.22L350.01,280.03L350.51,280.69L351.01,281.20L351.51,281.63L352.01,282.02L352.51,282.36L353.01,282.66L353.51,282.94L354.01,283.18L354.51,283.40L355.01,283.62L355.51,283.82L356.01,284.01L356.51,284.19L357.01,284.35L357.51,284.49L358.01,284.60L358.51,284.69L359.01,284.75L359.51,284.81L360.01,284.87L360.51,284.92L361.01,284.97L361.51,285.02L362.01,285.06L362.51,285.09L363.01,285.13L363.51,285.15L364.01,285.17L364.51,285.19L365.01,285.20L365.51,285.20L366.01,285.18L366.51,285.15L367.01,285.10L367.51,285.02L368.01,284.94L368.51,284.84L369.01,284.72L369.51,284.60L370.01,284.47L370.51,284.32L371.01,284.17L371.51,284.02L372.01,283.86L372.51,283.70L373.01,283.53L373.51,283.37L374.01,283.21L374.51,283.05L375.01,282.88L375.51,282.70L376.01,282.50L376.51,282.30L377.01,282.08L377.51,281.85L378.01,281.60L378.51,281.34L379.01,281.06L379.51,280.76L380.01,280.45L380.51,280.12L381.01,279.78L381.51,279.41L382.01,279.01L382.51,278.56L383.01,278.07L383.51,277.51L384.01,276.88L384.51,276.18L385.01,275.38L385.51,274.38L386.01,272.93L386.51,271.09L387.01,268.91L387.51,266.48L388.01,263.86L388.51,260.82L389.01,256.91L389.51,252.55L390.01,248.22L390.51,244.12L391.01,239.88L391.51,235.75L392.01,232.02L392.51,228.77L393.01,225.68L393.51,222.76L394.01,220.07L394.51,217.67L395.01,215.59L395.51,213.84L396.01,212.23L396.51,210.78L397.01,209.47L397.51,208.32L398.01,207.32L398.51,206.47L399.01,205.68L399.51,204.96L400.01,204.30L400.51,203.70L401.01,203.15L401.51,202.65L402.01,202.19L402.51,201.76L403.01,201.36L403.51,200.97L404.01,200.61L404.51,200.26L405.01,199.93L405.51,199.62L406.01,199.32L406.51,199.04L407.01,198.78L407.51,198.53L408.01,198.29L408.51,198.07L409.01,197.86L409.51,197.66L410.01,197.47L410.51,197.28L411.01,197.10L411.51,196.92L412.01,196.76L412.51,196.60L413.01,196.44L413.51,196.30L414.01,196.16L414.51,196.03L415.01,195.91L415.51,195.79L416.01,195.68L416.51,195.58L417.01,195.48L417.51,195.39L418.01,195.30L418.51,195.21L419.01,195.13L419.51,195.05L420.01,194.98L420.51,194.90L421.01,194.83L421.51,194.76L422.01,194.69L422.51,194.63L423.01,194.56L423.51,194.50L424.01,194.43L424.51,194.37L425.01,194.31L425.51,194.24L426.01,194.18L426.51,194.11L427.01,194.04L427.51,193.97L428.01,193.90L428.51,193.82L429.01,193.75L429.51,193.69L430.01,193.64L430.51,193.60L431.01,193.56L431.51,193.51L432.01,193.47L432.51,193.44L433.01,193.40L433.51,193.36L434.01,193.33L434.51,193.29L435.01,193.26L435.51,193.23L436.01,193.20L436.51,193.18L437.01,193.15L437.51,193.13L438.01,193.11L438.51,193.09L439.01,193.07L439.51,193.05L440.01,193.04L440.51,193.03L441.01,193.02L441.51,193.01L442.01,192.99L442.51,192.98L443.01,192.97L443.51,192.96L444.01,192.95L444.51,192.94L445.01,192.93L445.51,192.92L446.01,192.91L446.51,192.90L447.01,192.89L447.51,192.88L448.01,192.88L448.51,192.87L449.01,192.86L449.51,192.85L450.01,192.84L450.51,192.83L451.01,192.83L451.51,192.82L452.01,192.81L452.51,192.81L453.01,192.80L453.51,192.79L454.01,192.79L454.51,192.78L455.01,192.77L455.51,192.77L456.01,192.76L456.51,192.76L457.01,192.75L457.51,192.74L458.01,192.74L458.51,192.73L459.01,192.73L459.51,192.72L460.01,192.72L460.51,192.71L461.01,192.71L461.51,192.70L462.01,192.70L462.51,192.70L463.01,192.69L463.51,192.69L464.01,192.68L464.51,192.68L465.01,192.67L465.51,192.67L466.01,192.67L466.51,192.66L467.01,192.66L467.51,192.66L468.01,192.65L468.51,192.65L469.01,192.65L469.51,192.64L470.01,192.64L470.51,192.64L471.01,192.63L471.51,192.63L472.01,192.63L472.51,192.62L473.01,192.62L473.51,192.62L474.01,192.61L474.51,192.61L475.01,192.61L475.51,192.60L476.01,192.60L476.51,192.60L477.01,192.60L477.51,192.59L478.01,192.59L478.51,192.59L479.01,192.58L479.51,192.58L480.01,192.58L480.51,192.57L481.01,192.57L481.51,192.57L482.01,192.57L482.51,192.56L483.01,192.56L483.51,192.56L484.01,192.55L484.51,192.55L485.01,192.55L485.51,192.55L486.01,192.54L486.51,192.54L487.01,192.54L487.51,192.53L488.01,192.53L488.51,192.53L489.01,192.53L489.51,192.52L490.01,192.52L490.51,192.52L491.01,192.52L491.51,192.51L492.01,192.51L492.51,192.51L493.01,192.51L493.51,192.51L494.01,192.50L494.51,192.50L495.01,192.50L495.51,192.50L496.01,192.49L496.51,192.49L497.01,192.49L497.51,192.49L498.01,192.49L498.51,192.48L499.01,192.48L499.51,192.48L500.01,192.48L500.51,192.48L501.01,192.47L501.51,192.47L502.01,192.47L502.51,192.47L503.01,192.47L503.51,192.47L504.01,192.46L504.51,192.46L505.01,192.46L505.51,192.46L506.01,192.46L506.51,192.46L507.01,192.46L507.51,192.45L508.01,192.45L508.51,192.45L509.01,192.45L509.51,192.45L510.01,192.45L510.51,192.45L511.01,192.45L511.51,192.45L512.01,192.45L512.51,192.44L513.01,192.44L513.51,192.44L514.01,192.44L514.51,192.44L515.01,192.44L515.51,192.44L516.01,192.44L516.51,192.44L517.01,192.44L517.51,192.44L518.01,192.44L518.51,192.44L519.01,192.44L519.51,192.44" stroke="#ff0000" stroke-width="1.65" stroke-linejoin="round"/>
<path d="M179.9,192.15H512.9" stroke="#000" stroke-width="1.6" stroke-dasharray="1.7 3.3"/>
<path d="M179.9,290.20H512.9" stroke="#000" stroke-width="1.6" stroke-dasharray="1.7 3.3"/>
<path d="M289.50,174.55V309.7" stroke="#000" stroke-width="1.0" stroke-dasharray="1.3 3.7"/>
<path d="M301.50,174.55V309.7" stroke="#000" stroke-width="1.0" stroke-dasharray="1.3 3.7"/>
<path d="M366.30,174.55V309.7" stroke="#000" stroke-width="1.0" stroke-dasharray="1.3 3.7"/>
</g>
<g clip-path="url(#c2)" fill="none" stroke-linejoin="miter">
<path d="M170.90,419.78H172.61V426.19H175.02V423.58H178.02V426.59H181.43V424.78H187.43V423.78H190.64V427.19H194.04V426.59H197.05V425.79H200.45V425.19H206.66V426.19H210.07V425.39H213.07V423.78H216.48V421.18H219.48V419.58H222.69V418.57H225.09V419.78H227.70V414.17H231.10V404.75H234.11V379.72H237.11V375.11H240.11V361.69H243.52V359.48H246.12V349.07H249.53V358.08H252.73V350.47H255.74V338.05H258.74V346.06H265.15V379.11H268.16V390.53H271.16V404.75H274.17V414.77H277.17V422.58H280.58V420.18H286.79V421.38H290.19V422.98H296.00V422.98H299.00V423.78H305.01V412.77H308.42V407.76H311.42V395.14H314.43V390.13H317.43V372.10H320.44V364.69H323.64V369.70H327.05V357.08H330.05V351.47H333.46V362.09H336.66V365.49H339.67V393.14H342.67V402.75H346.08V415.17H349.08V420.58H352.49V422.18H358.50V423.58H373.12V420.78H379.13V415.57H385.54V398.74H388.74V393.14H391.75V375.11H395.15V359.69H398.16V352.07H401.56V343.06H404.77V341.06H407.77V335.05H410.78V343.06H414.18V334.05H417.19V329.04H420.19V334.05H423.59V316.42H426.43V322.43H429.43V347.67H432.63V325.03H435.64V320.02H438.64V324.03H441.65V319.62H445.05V335.45H448.06V334.05H451.06V321.63H454.07V341.06H457.07V327.64H460.08V333.04H463.48V345.06H466.49V339.65H469.49V331.04H472.70V323.43H475.70V329.04H478.70V334.05H481.71V329.04H484.71V339.65H488.12V329.64H491.12V313.01H494.13V346.06H497.53V339.65H500.54V329.64H503.54V339.65H506.75V325.03H509.75V323.63H512.76V328.04H516.16V329.24H518.17V325.03H519.77V325.03H519.90" stroke="#000" stroke-width="1.3"/>
<path d="M205.06,330.04L205.56,330.04L206.06,330.04L206.56,330.04L207.06,330.05L207.56,330.05L208.06,330.06L208.56,330.06L209.06,330.07L209.56,330.08L210.06,330.09L210.56,330.10L211.06,330.11L211.56,330.12L212.06,330.13L212.56,330.15L213.06,330.16L213.56,330.18L214.06,330.19L214.56,330.21L215.06,330.23L215.56,330.24L216.06,330.26L216.56,330.28L217.06,330.30L217.56,330.32L218.06,330.34L218.56,330.36L219.06,330.39L219.56,330.41L220.06,330.43L220.56,330.46L221.06,330.48L221.56,330.50L222.06,330.53L222.56,330.56L223.06,330.58L223.56,330.61L224.06,330.63L224.56,330.66L225.06,330.69L225.56,330.72L226.06,330.74L226.56,330.77L227.06,330.80L227.56,330.83L228.06,330.86L228.56,330.89L229.06,330.92L229.56,330.95L230.06,330.98L230.56,331.01L231.06,331.04L231.56,331.07L232.06,331.10L232.56,331.14L233.06,331.17L233.56,331.21L234.06,331.25L234.56,331.29L235.06,331.34L235.56,331.38L236.06,331.43L236.56,331.48L237.06,331.53L237.56,331.59L238.06,331.64L238.56,331.70L239.06,331.76L239.56,331.82L240.06,331.88L240.56,331.95L241.06,332.02L241.56,332.09L242.06,332.16L242.56,332.23L243.06,332.31L243.56,332.39L244.06,332.47L244.56,332.55L245.06,332.63L245.56,332.72L246.06,332.82L246.56,332.92L247.06,333.03L247.56,333.15L248.06,333.27L248.56,333.41L249.06,333.55L249.56,333.70L250.06,333.86L250.56,334.02L251.06,334.20L251.56,334.39L252.06,334.59L252.56,334.80L253.06,335.01L253.56,335.25L254.06,335.53L254.56,335.84L255.06,336.18L255.56,336.55L256.06,336.96L256.56,337.39L257.06,337.85L257.56,338.34L258.06,338.86L258.56,339.40L259.06,339.96L259.56,340.56L260.06,341.23L260.56,341.97L261.06,342.79L261.56,343.68L262.06,344.65L262.56,345.71L263.06,346.85L263.56,348.14L264.06,349.65L264.56,351.37L265.06,353.28L265.56,355.38L266.06,357.64L266.56,360.21L267.06,363.27L267.56,366.69L268.06,370.30L268.56,373.94L269.06,377.45L269.56,380.85L270.06,384.35L270.56,387.87L271.06,391.31L271.56,394.58L272.06,397.57L272.56,400.32L273.06,402.99L273.56,405.54L274.06,407.90L274.56,410.01L275.06,411.82L275.56,413.37L276.06,414.84L276.56,416.19L277.06,417.37L277.56,418.34L278.06,419.06L278.56,419.55L279.06,419.99L279.56,420.37L280.06,420.72L280.56,421.03L281.06,421.30L281.56,421.54L282.06,421.76L282.56,421.96L283.06,422.14L283.56,422.31L284.06,422.48L284.56,422.65L285.06,422.81L285.56,422.96L286.06,423.10L286.56,423.23L287.06,423.35L287.56,423.44L288.06,423.51L288.56,423.56L289.06,423.58L289.56,423.58L290.06,423.58L290.56,423.57L291.06,423.55L291.56,423.54L292.06,423.51L292.56,423.49L293.06,423.46L293.56,423.42L294.06,423.38L294.56,423.34L295.06,423.29L295.56,423.23L296.06,423.17L296.56,423.00L297.06,422.76L297.56,422.58L298.06,422.48L298.56,422.39L299.06,422.33L299.56,422.27L300.06,422.22L300.56,422.17L301.06,422.11L301.56,422.04L302.06,421.95L302.56,421.83L303.06,421.68L303.56,421.25L304.06,420.44L304.56,419.35L305.06,418.06L305.56,416.64L306.06,415.18L306.56,413.77L307.06,412.40L307.56,410.91L308.06,409.31L308.56,407.64L309.06,405.94L309.56,404.24L310.06,402.58L310.56,401.00L311.06,399.44L311.56,397.90L312.06,396.37L312.56,394.85L313.06,393.33L313.56,391.82L314.06,390.32L314.56,388.79L315.06,387.23L315.56,385.68L316.06,384.14L316.56,382.65L317.06,381.21L317.56,379.86L318.06,378.58L318.56,377.34L319.06,376.14L319.56,374.98L320.06,373.87L320.56,372.82L321.06,371.83L321.56,370.91L322.06,370.04L322.56,369.21L323.06,368.42L323.56,367.66L324.06,366.95L324.56,366.27L325.06,365.62L325.56,365.00L326.06,364.39L326.56,363.80L327.06,363.24L327.56,362.72L328.06,362.24L328.56,361.81L329.06,361.41L329.56,360.99L330.06,360.59L330.56,360.24L331.06,359.97L331.56,359.82L332.06,359.86L332.56,360.26L333.06,360.94L333.56,361.80L334.06,362.74L334.56,363.96L335.06,365.84L335.56,367.63L336.06,368.49L336.56,367.53L337.06,365.45L337.56,364.18L338.06,366.18L338.56,370.15L339.06,373.50L339.56,376.98L340.06,380.61L340.56,384.32L341.06,388.00L341.56,391.62L342.06,395.09L342.56,398.43L343.06,401.69L343.56,404.70L344.06,407.24L344.56,409.45L345.06,411.35L345.56,412.99L346.06,414.40L346.56,415.61L347.06,416.65L347.56,417.55L348.06,418.37L348.56,419.08L349.06,419.66L349.56,420.14L350.06,420.55L350.56,420.90L351.06,421.22L351.56,421.51L352.06,421.76L352.56,421.99L353.06,422.19L353.56,422.37L354.06,422.54L354.56,422.70L355.06,422.86L355.56,423.00L356.06,423.13L356.56,423.24L357.06,423.34L357.56,423.43L358.06,423.49L358.56,423.55L359.06,423.61L359.56,423.67L360.06,423.72L360.56,423.77L361.06,423.81L361.56,423.86L362.06,423.89L362.56,423.93" stroke="#00ffff" stroke-width="1.65" stroke-linecap="round" stroke-linejoin="round"/>
<path d="M171.01,329.64L171.51,329.64L172.01,329.64L172.51,329.64L173.01,329.64L173.51,329.64L174.01,329.64L174.51,329.64L175.01,329.64L175.51,329.64L176.01,329.64L176.51,329.65L177.01,329.65L177.51,329.65L178.01,329.65L178.51,329.65L179.01,329.65L179.51,329.65L180.01,329.65L180.51,329.66L181.01,329.66L181.51,329.66L182.01,329.66L182.51,329.66L183.01,329.67L183.51,329.67L184.01,329.67L184.51,329.67L185.01,329.68L185.51,329.68L186.01,329.68L186.51,329.68L187.01,329.69L187.51,329.69L188.01,329.69L188.51,329.69L189.01,329.70L189.51,329.70L190.01,329.70L190.51,329.71L191.01,329.71L191.51,329.71L192.01,329.72L192.51,329.72L193.01,329.72L193.51,329.73L194.01,329.73L194.51,329.74L195.01,329.74L195.51,329.74L196.01,329.75L196.51,329.75L197.01,329.75L197.51,329.76L198.01,329.76L198.51,329.77L199.01,329.77L199.51,329.78L200.01,329.78L200.51,329.78L201.01,329.79L201.51,329.79L202.01,329.80L202.51,329.80L203.01,329.81L203.51,329.81L204.01,329.82L204.51,329.82L205.01,329.83L205.51,329.83L206.01,329.83L206.51,329.84L207.01,329.84L207.51,329.85L208.01,329.85L208.51,329.86L209.01,329.86L209.51,329.87L210.01,329.87L210.51,329.88L211.01,329.89L211.51,329.89L212.01,329.90L212.51,329.90L213.01,329.91L213.51,329.91L214.01,329.92L214.51,329.92L215.01,329.93L215.51,329.93L216.01,329.94L216.51,329.94L217.01,329.95L217.51,329.95L218.01,329.96L218.51,329.97L219.01,329.97L219.51,329.98L220.01,329.98L220.51,329.99L221.01,329.99L221.51,330.00L222.01,330.01L222.51,330.01L223.01,330.02L223.51,330.02L224.01,330.03L224.51,330.03L225.01,330.04L225.51,330.04L226.01,330.05L226.51,330.06L227.01,330.07L227.51,330.07L228.01,330.08L228.51,330.09L229.01,330.10L229.51,330.11L230.01,330.12L230.51,330.13L231.01,330.14L231.51,330.16L232.01,330.17L232.51,330.18L233.01,330.19L233.51,330.20L234.01,330.22L234.51,330.23L235.01,330.24L235.51,330.26L236.01,330.27L236.51,330.28L237.01,330.30L237.51,330.31L238.01,330.32L238.51,330.34L239.01,330.35L239.51,330.37L240.01,330.38L240.51,330.39L241.01,330.41L241.51,330.42L242.01,330.43L242.51,330.45L243.01,330.46L243.51,330.47L244.01,330.48L244.51,330.50L245.01,330.51L245.51,330.52L246.01,330.53L246.51,330.54L247.01,330.55L247.51,330.56L248.01,330.57L248.51,330.58L249.01,330.59L249.51,330.59L250.01,330.60L250.51,330.61L251.01,330.62L251.51,330.62L252.01,330.63L252.51,330.63L253.01,330.63L253.51,330.64L254.01,330.64L254.51,330.64L255.01,330.64L255.51,330.64L256.01,330.64L256.51,330.64L257.01,330.63L257.51,330.63L258.01,330.63L258.51,330.62L259.01,330.62L259.51,330.61L260.01,330.61L260.51,330.60L261.01,330.59L261.51,330.59L262.01,330.58L262.51,330.57L263.01,330.56L263.51,330.56L264.01,330.55L264.51,330.54L265.01,330.54L265.51,330.53L266.01,330.52L266.51,330.52L267.01,330.51L267.51,330.51L268.01,330.51L268.51,330.50L269.01,330.50L269.51,330.50L270.01,330.50L270.51,330.50L271.01,330.51L271.51,330.51L272.01,330.52L272.51,330.54L273.01,330.55L273.51,330.57L274.01,330.59L274.51,330.61L275.01,330.63L275.51,330.66L276.01,330.68L276.51,330.71L277.01,330.74L277.51,330.77L278.01,330.81L278.51,330.84L279.01,330.88L279.51,330.91L280.01,330.95L280.51,330.99L281.01,331.03L281.51,331.07L282.01,331.11L282.51,331.15L283.01,331.19L283.51,331.23L284.01,331.27L284.51,331.31L285.01,331.35L285.51,331.39L286.01,331.43L286.51,331.47L287.01,331.50L287.51,331.54L288.01,331.58L288.51,331.61L289.01,331.65L289.51,331.69L290.01,331.72L290.51,331.76L291.01,331.80L291.51,331.83L292.01,331.87L292.51,331.91L293.01,331.95L293.51,331.99L294.01,332.03L294.51,332.07L295.01,332.11L295.51,332.15L296.01,332.20L296.51,332.24L297.01,332.29L297.51,332.33L298.01,332.38L298.51,332.43L299.01,332.47L299.51,332.52L300.01,332.57L300.51,332.63L301.01,332.68L301.51,332.73L302.01,332.79L302.51,332.85L303.01,332.91L303.51,332.97L304.01,333.03L304.51,333.09L305.01,333.16L305.51,333.22L306.01,333.29L306.51,333.37L307.01,333.44L307.51,333.52L308.01,333.59L308.51,333.67L309.01,333.76L309.51,333.84L310.01,333.93L310.51,334.02L311.01,334.11L311.51,334.21L312.01,334.31L312.51,334.42L313.01,334.53L313.51,334.64L314.01,334.76L314.51,334.89L315.01,335.02L315.51,335.15L316.01,335.29L316.51,335.44L317.01,335.58L317.51,335.74L318.01,335.90L318.51,336.07L319.01,336.26L319.51,336.45L320.01,336.65L320.51,336.87L321.01,337.10L321.51,337.33L322.01,337.58L322.51,337.83L323.01,338.10L323.51,338.37L324.01,338.67L324.51,338.98L325.01,339.32L325.51,339.67L326.01,340.04L326.51,340.43L327.01,340.83L327.51,341.25L328.01,341.68L328.51,342.13L329.01,342.60L329.51,343.10L330.01,343.64L330.51,344.21L331.01,344.83L331.51,345.51L332.01,346.28L332.51,347.15L333.01,348.11L333.51,349.15L334.01,350.26L334.51,351.44L335.01,352.66L335.51,353.96L336.01,355.37L336.51,356.93L337.01,358.68L337.51,360.66L338.01,363.17L338.51,366.13L339.01,369.32L339.51,372.58L340.01,376.09L340.51,379.77L341.01,383.45L341.51,387.07L342.01,390.74L342.51,394.30L343.01,397.60L343.51,400.81L344.01,403.88L344.51,406.58L345.01,408.75L345.51,410.64L346.01,412.33L346.51,413.79L347.01,415.01L347.51,416.03L348.01,416.96L348.51,417.79L349.01,418.51L349.51,419.12L350.01,419.59L350.51,420.00L351.01,420.36L351.51,420.69L352.01,420.98L352.51,421.24L353.01,421.47L353.51,421.67L354.01,421.85L354.51,422.02L355.01,422.19L355.51,422.34L356.01,422.48L356.51,422.61L357.01,422.73L357.51,422.83L358.01,422.92L358.51,422.99L359.01,423.05L359.51,423.10L360.01,423.16L360.51,423.21L361.01,423.26L361.51,423.31L362.01,423.35L362.51,423.39L363.01,423.42L363.51,423.45L364.01,423.47L364.51,423.49L365.01,423.50L365.51,423.50L366.01,423.49L366.51,423.48L367.01,423.46L367.51,423.43L368.01,423.40L368.51,423.35L369.01,423.31L369.51,423.25L370.01,423.20L370.51,423.13L371.01,423.07L371.51,423.00L372.01,422.92L372.51,422.84L373.01,422.77L373.51,422.68L374.01,422.60L374.51,422.51L375.01,422.40L375.51,422.28L376.01,422.14L376.51,421.98L377.01,421.81L377.51,421.62L378.01,421.41L378.51,421.19L379.01,420.96L379.51,420.71L380.01,420.44L380.51,420.16L381.01,419.83L381.51,419.45L382.01,419.03L382.51,418.56L383.01,418.04L383.51,417.46L384.01,416.82L384.51,416.13L385.01,415.37L385.51,414.48L386.01,413.31L386.51,411.90L387.01,410.29L387.51,408.53L388.01,406.66L388.51,404.66L389.01,402.39L389.51,399.85L390.01,397.10L390.51,394.14L391.01,391.01L391.51,387.56L392.01,383.53L392.51,379.27L393.01,375.17L393.51,371.35L394.01,367.47L394.51,363.85L395.01,360.80L395.51,358.44L396.01,356.32L396.51,354.41L397.01,352.72L397.51,351.24L398.01,349.99L398.51,348.94L399.01,347.98L399.51,347.10L400.01,346.31L400.51,345.58L401.01,344.93L401.51,344.34L402.01,343.81L402.51,343.33L403.01,342.88L403.51,342.46L404.01,342.06L404.51,341.69L405.01,341.34L405.51,341.01L406.01,340.69L406.51,340.39L407.01,340.10L407.51,339.82L408.01,339.55L408.51,339.29L409.01,339.03L409.51,338.77L410.01,338.52L410.51,338.28L411.01,338.04L411.51,337.81L412.01,337.59L412.51,337.38L413.01,337.17L413.51,336.97L414.01,336.78L414.51,336.60L415.01,336.42L415.51,336.26L416.01,336.10L416.51,335.95L417.01,335.81L417.51,335.68L418.01,335.55L418.51,335.42L419.01,335.30L419.51,335.18L420.01,335.07L420.51,334.96L421.01,334.85L421.51,334.74L422.01,334.64L422.51,334.54L423.01,334.44L423.51,334.34L424.01,334.24L424.51,334.14L425.01,334.05L425.51,333.95L426.01,333.85L426.51,333.75L427.01,333.64L427.51,333.54L428.01,333.43L428.51,333.33L429.01,333.23L429.51,333.14L430.01,333.05L430.51,332.96L431.01,332.88L431.51,332.80L432.01,332.71L432.51,332.63L433.01,332.55L433.51,332.47L434.01,332.40L434.51,332.32L435.01,332.25L435.51,332.17L436.01,332.10L436.51,332.04L437.01,331.97L437.51,331.91L438.01,331.85L438.51,331.79L439.01,331.74L439.51,331.69L440.01,331.65L440.51,331.60L441.01,331.56L441.51,331.52L442.01,331.47L442.51,331.43L443.01,331.39L443.51,331.35L444.01,331.31L444.51,331.27L445.01,331.23L445.51,331.19L446.01,331.16L446.51,331.12L447.01,331.08L447.51,331.05L448.01,331.01L448.51,330.98L449.01,330.95L449.51,330.91L450.01,330.88L450.51,330.85L451.01,330.82L451.51,330.79L452.01,330.76L452.51,330.74L453.01,330.71L453.51,330.68L454.01,330.66L454.51,330.64L455.01,330.61L455.51,330.59L456.01,330.57L456.51,330.55L457.01,330.53L457.51,330.51L458.01,330.50L458.51,330.48L459.01,330.47L459.51,330.45L460.01,330.44L460.51,330.43L461.01,330.42L461.51,330.41L462.01,330.40L462.51,330.39L463.01,330.38L463.51,330.37L464.01,330.36L464.51,330.35L465.01,330.34L465.51,330.33L466.01,330.33L466.51,330.32L467.01,330.31L467.51,330.30L468.01,330.29L468.51,330.29L469.01,330.28L469.51,330.27L470.01,330.27L470.51,330.26L471.01,330.25L471.51,330.25L472.01,330.24L472.51,330.23L473.01,330.23L473.51,330.22L474.01,330.22L474.51,330.21L475.01,330.21L475.51,330.20L476.01,330.20L476.51,330.19L477.01,330.18L477.51,330.18L478.01,330.17L478.51,330.17L479.01,330.16L479.51,330.16L480.01,330.15L480.51,330.15L481.01,330.14L481.51,330.14L482.01,330.13L482.51,330.13L483.01,330.12L483.51,330.12L484.01,330.11L484.51,330.11L485.01,330.10L485.51,330.10L486.01,330.09L486.51,330.08L487.01,330.08L487.51,330.07L488.01,330.07L488.51,330.06L489.01,330.05L489.51,330.05L490.01,330.04L490.51,330.03L491.01,330.03L491.51,330.02L492.01,330.01L492.51,330.01L493.01,330.00L493.51,329.99L494.01,329.99L494.51,329.98L495.01,329.97L495.51,329.97L496.01,329.96L496.51,329.95L497.01,329.95L497.51,329.94L498.01,329.93L498.51,329.93L499.01,329.92L499.51,329.91L500.01,329.91L500.51,329.90L501.01,329.89L501.51,329.89L502.01,329.88L502.51,329.87L503.01,329.87L503.51,329.86L504.01,329.85L504.51,329.85L505.01,329.84L505.51,329.83L506.01,329.83L506.51,329.82L507.01,329.81L507.51,329.81L508.01,329.80L508.51,329.79L509.01,329.79L509.51,329.78L510.01,329.77L510.51,329.76L511.01,329.76L511.51,329.75L512.01,329.74L512.51,329.74L513.01,329.73L513.51,329.72L514.01,329.72L514.51,329.71L515.01,329.70L515.51,329.70L516.01,329.69L516.51,329.68L517.01,329.68L517.51,329.67L518.01,329.66L518.51,329.66L519.01,329.65L519.51,329.64" stroke="#ff0000" stroke-width="1.65" stroke-linejoin="round"/>
<path d="M179.9,329.30H512.9" stroke="#000" stroke-width="1.6" stroke-dasharray="1.7 3.3"/>
<path d="M179.9,427.35H512.9" stroke="#000" stroke-width="1.6" stroke-dasharray="1.7 3.3"/>
<path d="M289.50,311.70V446.7" stroke="#000" stroke-width="1.0" stroke-dasharray="1.3 3.7"/>
<path d="M301.50,311.70V446.7" stroke="#000" stroke-width="1.0" stroke-dasharray="1.3 3.7"/>
<path d="M366.30,311.70V446.7" stroke="#000" stroke-width="1.0" stroke-dasharray="1.3 3.7"/>
</g>
<g clip-path="url(#c3)" fill="none" stroke-linejoin="miter">
<path d="M170.90,483.67H174.61V466.64H178.42V471.05H181.02V476.05H184.03V466.04H187.03V478.46H190.04V466.44H193.04V476.05H196.05V457.43H199.05V466.44H202.06V473.65H205.06V489.67H207.67V487.07H210.67V501.09H213.67V493.48H216.68V510.11H219.68V511.11H222.69V510.11H225.69V496.48H228.70V474.45H231.70V472.05H234.71V466.04H237.51V473.05H240.52V475.05H243.12V478.06H245.72V484.47H249.13V476.05H251.73V478.06H254.54V480.06H257.54V490.07H260.75V487.47H263.15V486.07H266.76V512.11H269.76V526.13H272.76V542.76H275.77V555.17H278.77V555.98H281.78V556.58H284.78V558.58H287.79V560.78H296.00V561.18H300.41V562.59H305.01V563.19H310.02V560.78H313.43V556.78H316.03V550.77H319.04V545.56H322.04V534.14H325.04V529.74H328.05V531.14H331.05V540.15H337.06V549.77H340.07V558.18H343.07V559.58H348.48V563.19H356.09V563.59H376.12V562.79H382.13V561.18H385.14V558.18H387.74V555.17H390.14V547.16H393.15V543.16H395.75V533.54H398.56V509.70H401.56V506.50H404.57V500.69H407.57V510.11H410.57V499.69H413.18V494.48H416.18V487.07H419.19V481.66H422.19V485.47H425.20V468.04H428.03V474.05H430.63V476.65H433.64V473.05H437.04V480.06H439.65V477.06H442.65V469.04H445.65V473.05H451.46V475.05H454.47V467.04H457.47V480.06H460.08V472.65H463.08V448.41H466.09V463.43H468.69V468.64H471.69V466.44H474.70V452.02H478.10V466.04H481.11V468.44H484.11V466.44H486.72V456.62H490.12V470.04H492.73V465.04H495.73V473.65H498.74V473.05H501.74V471.05H504.54V468.04H507.55V482.06H510.55V477.66H513.16V467.04H516.16V478.46H519.77V478.46H519.90" stroke="#000" stroke-width="1.3"/>
<path d="M225.09,470.44L225.59,470.45L226.09,470.45L226.59,470.47L227.09,470.48L227.59,470.50L228.09,470.52L228.59,470.55L229.09,470.58L229.59,470.62L230.09,470.65L230.59,470.70L231.09,470.74L231.59,470.79L232.09,470.84L232.59,470.89L233.09,470.94L233.59,471.00L234.09,471.06L234.59,471.12L235.09,471.19L235.59,471.25L236.09,471.32L236.59,471.39L237.09,471.46L237.59,471.53L238.09,471.60L238.59,471.67L239.09,471.75L239.59,471.82L240.09,471.89L240.59,471.97L241.09,472.04L241.59,472.12L242.09,472.21L242.59,472.30L243.09,472.40L243.59,472.50L244.09,472.61L244.59,472.73L245.09,472.85L245.59,472.98L246.09,473.12L246.59,473.26L247.09,473.40L247.59,473.55L248.09,473.71L248.59,473.87L249.09,474.04L249.59,474.21L250.09,474.39L250.59,474.58L251.09,474.79L251.59,475.00L252.09,475.24L252.59,475.48L253.09,475.75L253.59,476.03L254.09,476.34L254.59,476.67L255.09,477.02L255.59,477.42L256.09,477.88L256.59,478.41L257.09,479.00L257.59,479.65L258.09,480.37L258.59,481.14L259.09,481.97L259.59,482.92L260.09,484.05L260.59,485.33L261.09,486.75L261.59,488.28L262.09,489.89L262.59,491.60L263.09,493.48L263.59,495.53L264.09,497.75L264.59,500.16L265.09,502.76L265.59,505.73L266.09,509.21L266.59,513.03L267.09,517.01L267.59,520.95L268.09,524.67L268.59,528.29L269.09,532.12L269.59,535.92L270.09,539.48L270.59,542.54L271.09,544.90L271.59,546.58L272.09,548.00L272.59,549.20L273.09,550.24L273.59,551.16L274.09,552.01L274.59,552.80L275.09,553.50L275.59,554.14L276.09,554.70L276.59,555.18L277.09,555.61L277.59,555.99L278.09,556.34L278.59,556.66L279.09,556.94L279.59,557.20L280.09,557.44L280.59,557.67L281.09,557.88L281.59,558.07L282.09,558.26L282.59,558.45L283.09,558.63L283.59,558.82L284.09,559.01L284.59,559.20L285.09,559.38L285.59,559.57L286.09,559.74L286.59,559.92L287.09,560.09L287.59,560.26L288.09,560.43L288.59,560.60L289.09,560.77L289.59,560.94L290.09,561.11L290.59,561.28L291.09,561.45L291.59,561.61L292.09,561.76L292.59,561.90L293.09,562.03L293.59,562.14L294.09,562.23L294.59,562.33L295.09,562.42L295.59,562.50L296.09,562.59L296.59,562.66L297.09,562.73L297.59,562.79L298.09,562.84L298.59,562.88L299.09,562.90L299.59,562.90L300.09,562.90L300.59,562.90L301.09,562.90L301.59,562.90L302.09,562.90L302.59,562.90L303.09,562.90L303.59,562.90L304.09,562.90L304.59,562.90L305.09,562.90L305.59,562.90L306.09,562.90L306.59,562.90L307.09,562.88L307.59,562.81L308.09,562.69L308.59,562.54L309.09,562.36L309.59,562.15L310.09,561.94L310.59,561.71L311.09,561.42L311.59,561.05L312.09,560.63L312.59,560.16L313.09,559.66L313.59,559.13L314.09,558.60L314.59,558.02L315.09,557.39L315.59,556.71L316.09,555.99L316.59,555.24L317.09,554.46L317.59,553.67L318.09,552.86L318.59,551.98L319.09,551.06L319.59,550.12L320.09,549.16L320.59,548.20L321.09,547.26L321.59,546.35L322.09,545.42L322.59,544.48L323.09,543.55L323.59,542.63L324.09,541.75L324.59,540.92L325.09,540.17L325.59,539.44L326.09,538.72L326.59,538.03L327.09,537.38L327.59,536.78L328.09,536.24L328.59,535.79L329.09,535.39L329.59,534.98L330.09,534.61L330.59,534.28L331.09,534.04L331.59,533.91L332.09,533.94L332.59,534.17L333.09,534.56L333.59,535.05L334.09,535.58L334.59,536.19L335.09,537.00L335.59,537.97L336.09,539.06L336.59,540.22L337.09,541.43L337.59,542.80L338.09,544.36L338.59,546.01L339.09,547.65L339.59,549.19L340.09,550.62L340.59,552.07L341.09,553.49L341.59,554.81L342.09,555.99L342.59,556.96L343.09,557.84L343.59,558.65L344.09,559.37L344.59,559.98L345.09,560.43L345.59,560.75L346.09,561.05L346.59,561.33L347.09,561.57L347.59,561.76L348.09,561.91L348.59,561.99L349.09,561.98L349.59,561.76L350.09,561.53L350.59,561.48L351.09,561.60L351.59,561.71L352.09,561.80L352.59,561.89L353.09,561.97L353.59,562.04L354.09,562.11L354.59,562.17L355.09,562.23L355.59,562.28L356.09,562.34L356.59,562.39L357.09,562.45L357.59,562.50L358.09,562.55L358.59,562.60L359.09,562.65L359.59,562.69L360.09,562.73L360.59,562.77L361.09,562.80L361.59,562.83L362.09,562.86L362.59,562.87L363.09,562.88" stroke="#00ffff" stroke-width="1.65" stroke-linecap="round" stroke-linejoin="round"/>
<path d="M171.01,468.04L171.51,468.05L172.01,468.06L172.51,468.07L173.01,468.08L173.51,468.10L174.01,468.11L174.51,468.12L175.01,468.13L175.51,468.14L176.01,468.16L176.51,468.17L177.01,468.18L177.51,468.20L178.01,468.21L178.51,468.23L179.01,468.24L179.51,468.26L180.01,468.27L180.51,468.29L181.01,468.30L181.51,468.32L182.01,468.34L182.51,468.35L183.01,468.37L183.51,468.39L184.01,468.41L184.51,468.42L185.01,468.44L185.51,468.46L186.01,468.48L186.51,468.50L187.01,468.52L187.51,468.54L188.01,468.56L188.51,468.58L189.01,468.60L189.51,468.63L190.01,468.65L190.51,468.67L191.01,468.70L191.51,468.72L192.01,468.75L192.51,468.77L193.01,468.80L193.51,468.83L194.01,468.85L194.51,468.88L195.01,468.91L195.51,468.93L196.01,468.96L196.51,468.99L197.01,469.01L197.51,469.04L198.01,469.07L198.51,469.10L199.01,469.12L199.51,469.15L200.01,469.18L200.51,469.20L201.01,469.23L201.51,469.26L202.01,469.29L202.51,469.31L203.01,469.34L203.51,469.36L204.01,469.39L204.51,469.42L205.01,469.44L205.51,469.47L206.01,469.49L206.51,469.51L207.01,469.54L207.51,469.56L208.01,469.59L208.51,469.61L209.01,469.63L209.51,469.66L210.01,469.68L210.51,469.70L211.01,469.73L211.51,469.75L212.01,469.77L212.51,469.80L213.01,469.82L213.51,469.84L214.01,469.87L214.51,469.89L215.01,469.91L215.51,469.94L216.01,469.96L216.51,469.98L217.01,470.01L217.51,470.03L218.01,470.06L218.51,470.08L219.01,470.11L219.51,470.13L220.01,470.16L220.51,470.18L221.01,470.21L221.51,470.24L222.01,470.27L222.51,470.29L223.01,470.32L223.51,470.35L224.01,470.38L224.51,470.41L225.01,470.44L225.51,470.47L226.01,470.50L226.51,470.53L227.01,470.57L227.51,470.60L228.01,470.63L228.51,470.67L229.01,470.70L229.51,470.74L230.01,470.77L230.51,470.81L231.01,470.84L231.51,470.88L232.01,470.92L232.51,470.96L233.01,470.99L233.51,471.03L234.01,471.07L234.51,471.11L235.01,471.15L235.51,471.19L236.01,471.23L236.51,471.27L237.01,471.32L237.51,471.36L238.01,471.40L238.51,471.44L239.01,471.49L239.51,471.53L240.01,471.58L240.51,471.62L241.01,471.66L241.51,471.71L242.01,471.76L242.51,471.80L243.01,471.85L243.51,471.89L244.01,471.94L244.51,471.99L245.01,472.04L245.51,472.08L246.01,472.13L246.51,472.18L247.01,472.23L247.51,472.28L248.01,472.34L248.51,472.39L249.01,472.44L249.51,472.49L250.01,472.55L250.51,472.60L251.01,472.66L251.51,472.71L252.01,472.77L252.51,472.83L253.01,472.88L253.51,472.94L254.01,473.00L254.51,473.06L255.01,473.12L255.51,473.18L256.01,473.24L256.51,473.30L257.01,473.37L257.51,473.43L258.01,473.49L258.51,473.55L259.01,473.62L259.51,473.68L260.01,473.75L260.51,473.82L261.01,473.88L261.51,473.95L262.01,474.02L262.51,474.08L263.01,474.15L263.51,474.22L264.01,474.29L264.51,474.36L265.01,474.43L265.51,474.50L266.01,474.57L266.51,474.65L267.01,474.72L267.51,474.80L268.01,474.88L268.51,474.96L269.01,475.04L269.51,475.12L270.01,475.20L270.51,475.28L271.01,475.36L271.51,475.45L272.01,475.53L272.51,475.62L273.01,475.71L273.51,475.80L274.01,475.88L274.51,475.97L275.01,476.06L275.51,476.15L276.01,476.24L276.51,476.33L277.01,476.42L277.51,476.52L278.01,476.61L278.51,476.70L279.01,476.79L279.51,476.89L280.01,476.98L280.51,477.08L281.01,477.17L281.51,477.27L282.01,477.37L282.51,477.48L283.01,477.58L283.51,477.68L284.01,477.79L284.51,477.90L285.01,478.02L285.51,478.13L286.01,478.25L286.51,478.37L287.01,478.49L287.51,478.61L288.01,478.74L288.51,478.87L289.01,479.00L289.51,479.13L290.01,479.26L290.51,479.40L291.01,479.54L291.51,479.68L292.01,479.82L292.51,479.97L293.01,480.11L293.51,480.27L294.01,480.42L294.51,480.58L295.01,480.74L295.51,480.90L296.01,481.06L296.51,481.23L297.01,481.41L297.51,481.59L298.01,481.78L298.51,481.97L299.01,482.17L299.51,482.38L300.01,482.58L300.51,482.80L301.01,483.02L301.51,483.24L302.01,483.46L302.51,483.70L303.01,483.93L303.51,484.18L304.01,484.43L304.51,484.68L305.01,484.94L305.51,485.21L306.01,485.49L306.51,485.77L307.01,486.06L307.51,486.36L308.01,486.66L308.51,486.98L309.01,487.30L309.51,487.63L310.01,487.98L310.51,488.33L311.01,488.69L311.51,489.06L312.01,489.44L312.51,489.83L313.01,490.23L313.51,490.64L314.01,491.06L314.51,491.49L315.01,491.93L315.51,492.39L316.01,492.86L316.51,493.34L317.01,493.84L317.51,494.34L318.01,494.86L318.51,495.39L319.01,495.93L319.51,496.49L320.01,497.05L320.51,497.63L321.01,498.23L321.51,498.83L322.01,499.46L322.51,500.10L323.01,500.75L323.51,501.42L324.01,502.11L324.51,502.82L325.01,503.54L325.51,504.28L326.01,505.04L326.51,505.82L327.01,506.61L327.51,507.42L328.01,508.26L328.51,509.12L329.01,510.02L329.51,510.96L330.01,511.93L330.51,512.95L331.01,514.01L331.51,515.14L332.01,516.34L332.51,517.60L333.01,518.94L333.51,520.35L334.01,521.82L334.51,523.36L335.01,524.96L335.51,526.69L336.01,528.58L336.51,530.59L337.01,532.68L337.51,534.81L338.01,536.92L338.51,539.09L339.01,541.43L339.51,543.81L340.01,546.11L340.51,548.21L341.01,549.98L341.51,551.48L342.01,552.91L342.51,554.22L343.01,555.38L343.51,556.36L344.01,557.10L344.51,557.66L345.01,558.18L345.51,558.63L346.01,559.04L346.51,559.40L347.01,559.70L347.51,559.96L348.01,560.16L348.51,560.32L349.01,560.48L349.51,560.62L350.01,560.75L350.51,560.88L351.01,560.99L351.51,561.10L352.01,561.20L352.51,561.29L353.01,561.37L353.51,561.45L354.01,561.53L354.51,561.60L355.01,561.66L355.51,561.72L356.01,561.78L356.51,561.83L357.01,561.88L357.51,561.94L358.01,561.99L358.51,562.04L359.01,562.09L359.51,562.14L360.01,562.19L360.51,562.23L361.01,562.27L361.51,562.30L362.01,562.33L362.51,562.35L363.01,562.37L363.51,562.38L364.01,562.39L364.51,562.35L365.01,562.22L365.51,562.06L366.01,561.90L366.51,561.80L367.01,561.74L367.51,561.70L368.01,561.65L368.51,561.62L369.01,561.58L369.51,561.55L370.01,561.53L370.51,561.51L371.01,561.48L371.51,561.46L372.01,561.44L372.51,561.42L373.01,561.40L373.51,561.38L374.01,561.36L374.51,561.34L375.01,561.31L375.51,561.28L376.01,561.24L376.51,561.20L377.01,561.15L377.51,561.10L378.01,561.04L378.51,560.96L379.01,560.87L379.51,560.77L380.01,560.65L380.51,560.52L381.01,560.37L381.51,560.21L382.01,560.03L382.51,559.84L383.01,559.63L383.51,559.41L384.01,559.17L384.51,558.91L385.01,558.64L385.51,558.27L386.01,557.78L386.51,557.19L387.01,556.51L387.51,555.75L388.01,554.94L388.51,554.08L389.01,553.10L389.51,551.93L390.01,550.61L390.51,549.16L391.01,547.63L391.51,546.00L392.01,544.13L392.51,542.07L393.01,539.91L393.51,537.74L394.01,535.66L394.51,533.64L395.01,531.59L395.51,529.56L396.01,527.59L396.51,525.72L397.01,523.99L397.51,522.34L398.01,520.75L398.51,519.25L399.01,517.82L399.51,516.48L400.01,515.20L400.51,513.96L401.01,512.77L401.51,511.63L402.01,510.54L402.51,509.52L403.01,508.55L403.51,507.65L404.01,506.78L404.51,505.94L405.01,505.14L405.51,504.37L406.01,503.62L406.51,502.90L407.01,502.21L407.51,501.53L408.01,500.88L408.51,500.24L409.01,499.62L409.51,499.02L410.01,498.44L410.51,497.87L411.01,497.33L411.51,496.79L412.01,496.27L412.51,495.76L413.01,495.26L413.51,494.77L414.01,494.28L414.51,493.80L415.01,493.33L415.51,492.85L416.01,492.38L416.51,491.92L417.01,491.46L417.51,491.00L418.01,490.55L418.51,490.11L419.01,489.67L419.51,489.24L420.01,488.82L420.51,488.41L421.01,488.00L421.51,487.61L422.01,487.22L422.51,486.85L423.01,486.48L423.51,486.12L424.01,485.77L424.51,485.43L425.01,485.09L425.51,484.75L426.01,484.42L426.51,484.09L427.01,483.77L427.51,483.46L428.01,483.15L428.51,482.85L429.01,482.56L429.51,482.27L430.01,482.00L430.51,481.73L431.01,481.47L431.51,481.22L432.01,480.97L432.51,480.74L433.01,480.52L433.51,480.30L434.01,480.08L434.51,479.87L435.01,479.67L435.51,479.47L436.01,479.27L436.51,479.08L437.01,478.90L437.51,478.71L438.01,478.54L438.51,478.37L439.01,478.20L439.51,478.04L440.01,477.89L440.51,477.74L441.01,477.59L441.51,477.45L442.01,477.32L442.51,477.18L443.01,477.05L443.51,476.92L444.01,476.79L444.51,476.67L445.01,476.54L445.51,476.42L446.01,476.31L446.51,476.19L447.01,476.08L447.51,475.97L448.01,475.87L448.51,475.77L449.01,475.67L449.51,475.58L450.01,475.50L450.51,475.41L451.01,475.34L451.51,475.27L452.01,475.20L452.51,475.14L453.01,475.08L453.51,475.03L454.01,474.98L454.51,474.94L455.01,474.89L455.51,474.85L456.01,474.81L456.51,474.77L457.01,474.73L457.51,474.69L458.01,474.65L458.51,474.61L459.01,474.56L459.51,474.51L460.01,474.46L460.51,474.40L461.01,474.34L461.51,474.28L462.01,474.21L462.51,474.14L463.01,474.07L463.51,474.00L464.01,473.92L464.51,473.85L465.01,473.77L465.51,473.69L466.01,473.62L466.51,473.54L467.01,473.47L467.51,473.39L468.01,473.32L468.51,473.25L469.01,473.18L469.51,473.12L470.01,473.06L470.51,473.00L471.01,472.94L471.51,472.89L472.01,472.84L472.51,472.78L473.01,472.73L473.51,472.68L474.01,472.63L474.51,472.58L475.01,472.54L475.51,472.49L476.01,472.44L476.51,472.39L477.01,472.35L477.51,472.30L478.01,472.25L478.51,472.20L479.01,472.16L479.51,472.11L480.01,472.06L480.51,472.01L481.01,471.96L481.51,471.90L482.01,471.85L482.51,471.80L483.01,471.74L483.51,471.69L484.01,471.63L484.51,471.58L485.01,471.53L485.51,471.47L486.01,471.42L486.51,471.37L487.01,471.32L487.51,471.27L488.01,471.22L488.51,471.18L489.01,471.14L489.51,471.09L490.01,471.05L490.51,471.02L491.01,470.98L491.51,470.95L492.01,470.91L492.51,470.88L493.01,470.85L493.51,470.82L494.01,470.79L494.51,470.76L495.01,470.73L495.51,470.71L496.01,470.68L496.51,470.65L497.01,470.62L497.51,470.60L498.01,470.57L498.51,470.54L499.01,470.51L499.51,470.48L500.01,470.45L500.51,470.42L501.01,470.39L501.51,470.36L502.01,470.33L502.51,470.30L503.01,470.27L503.51,470.23L504.01,470.20L504.51,470.17L505.01,470.14L505.51,470.11L506.01,470.08L506.51,470.05L507.01,470.02L507.51,469.99L508.01,469.96L508.51,469.93L509.01,469.90L509.51,469.88L510.01,469.85L510.51,469.83L511.01,469.80L511.51,469.78L512.01,469.76L512.51,469.73L513.01,469.71L513.51,469.69L514.01,469.66L514.51,469.64L515.01,469.62L515.51,469.60L516.01,469.58L516.51,469.56L517.01,469.54L517.51,469.52L518.01,469.50L518.51,469.49L519.01,469.47L519.51,469.45" stroke="#ff0000" stroke-width="1.65" stroke-linejoin="round"/>
<path d="M179.9,466.30H512.9" stroke="#000" stroke-width="1.6" stroke-dasharray="1.7 3.3"/>
<path d="M179.9,564.35H512.9" stroke="#000" stroke-width="1.6" stroke-dasharray="1.7 3.3"/>
<path d="M289.50,448.70V584.2" stroke="#000" stroke-width="1.0" stroke-dasharray="1.3 3.7"/>
<path d="M301.50,448.70V584.2" stroke="#000" stroke-width="1.0" stroke-dasharray="1.3 3.7"/>
<path d="M366.30,448.70V584.2" stroke="#000" stroke-width="1.0" stroke-dasharray="1.3 3.7"/>
</g>
<g stroke="#000" stroke-width="1.7" fill="none" stroke-linecap="butt">
<rect x="170.9" y="35.3" width="349.0" height="548.9000000000001"/>
<path d="M170.9,172.55H519.9"/>
<path d="M170.9,309.7H519.9"/>
<path d="M170.9,446.7H519.9"/>
<path d="M183.58,35.3v3.7M183.58,168.85000000000002v7.4M183.58,306.0v7.4M183.58,443.0v7.4M183.58,584.2v-3.7M203.82,35.3v7.3M203.82,165.25v14.6M203.82,302.4v14.6M203.82,439.4v14.6M203.82,584.2v-7.3M224.05,35.3v3.7M224.05,168.85000000000002v7.4M224.05,306.0v7.4M224.05,443.0v7.4M224.05,584.2v-3.7M244.29,35.3v7.3M244.29,165.25v14.6M244.29,302.4v14.6M244.29,439.4v14.6M244.29,584.2v-7.3M264.52,35.3v3.7M264.52,168.85000000000002v7.4M264.52,306.0v7.4M264.52,443.0v7.4M264.52,584.2v-3.7M284.76,35.3v7.3M284.76,165.25v14.6M284.76,302.4v14.6M284.76,439.4v14.6M284.76,584.2v-7.3M305.00,35.3v3.7M305.00,168.85000000000002v7.4M305.00,306.0v7.4M305.00,443.0v7.4M305.00,584.2v-3.7M325.23,35.3v7.3M325.23,165.25v14.6M325.23,302.4v14.6M325.23,439.4v14.6M325.23,584.2v-7.3M345.46,35.3v3.7M345.46,168.85000000000002v7.4M345.46,306.0v7.4M345.46,443.0v7.4M345.46,584.2v-3.7M365.70,35.3v7.3M365.70,165.25v14.6M365.70,302.4v14.6M365.70,439.4v14.6M365.70,584.2v-7.3M385.94,35.3v3.7M385.94,168.85000000000002v7.4M385.94,306.0v7.4M385.94,443.0v7.4M385.94,584.2v-3.7M406.17,35.3v7.3M406.17,165.25v14.6M406.17,302.4v14.6M406.17,439.4v14.6M406.17,584.2v-7.3M426.40,35.3v3.7M426.40,168.85000000000002v7.4M426.40,306.0v7.4M426.40,443.0v7.4M426.40,584.2v-3.7M446.64,35.3v7.3M446.64,165.25v14.6M446.64,302.4v14.6M446.64,439.4v14.6M446.64,584.2v-7.3M466.88,35.3v3.7M466.88,168.85000000000002v7.4M466.88,306.0v7.4M466.88,443.0v7.4M466.88,584.2v-3.7M487.11,35.3v7.3M487.11,165.25v14.6M487.11,302.4v14.6M487.11,439.4v14.6M487.11,584.2v-7.3M507.35,35.3v3.7M507.35,168.85000000000002v7.4M507.35,306.0v7.4M507.35,443.0v7.4M507.35,584.2v-3.7M170.9,152.95h7.3M519.9,152.95h-7.3M170.9,133.34h3.7M519.9,133.34h-3.7M170.9,113.73h3.7M519.9,113.73h-3.7M170.9,94.12h3.7M519.9,94.12h-3.7M170.9,74.51h3.7M519.9,74.51h-3.7M170.9,54.90h7.3M519.9,54.90h-7.3M170.9,290.20h7.3M519.9,290.20h-7.3M170.9,270.59h3.7M519.9,270.59h-3.7M170.9,250.98h3.7M519.9,250.98h-3.7M170.9,231.37h3.7M519.9,231.37h-3.7M170.9,211.76h3.7M519.9,211.76h-3.7M170.9,192.15h7.3M519.9,192.15h-7.3M170.9,427.35h7.3M519.9,427.35h-7.3M170.9,407.74h3.7M519.9,407.74h-3.7M170.9,388.13h3.7M519.9,388.13h-3.7M170.9,368.52h3.7M519.9,368.52h-3.7M170.9,348.91h3.7M519.9,348.91h-3.7M170.9,329.30h7.3M519.9,329.30h-7.3M170.9,564.35h7.3M519.9,564.35h-7.3M170.9,544.74h3.7M519.9,544.74h-3.7M170.9,525.13h3.7M519.9,525.13h-3.7M170.9,505.52h3.7M519.9,505.52h-3.7M170.9,485.91h3.7M519.9,485.91h-3.7M170.9,466.30h7.3M519.9,466.30h-7.3"/>
</g>
<text x="179.60" y="12.20" font-family="Liberation Serif" font-size="13.3" font-weight="normal" fill="#000" text-anchor="start" textLength="84.0" lengthAdjust="spacingAndGlyphs" stroke="#000" stroke-width="0.25" stroke-linejoin="round">Q0454&#8722;2203,</text>
<text x="271.80" y="12.20" font-family="Liberation Serif" font-size="13.3" font-weight="normal" fill="#000" text-anchor="start" textLength="6.1" lengthAdjust="spacingAndGlyphs" stroke="#000" stroke-width="0.25" stroke-linejoin="round">z</text>
<text x="315.00" y="12.20" font-family="Liberation Serif" font-size="13.3" font-weight="normal" fill="#000" text-anchor="start" textLength="55.8" lengthAdjust="spacingAndGlyphs" stroke="#000" stroke-width="0.25" stroke-linejoin="round">0.48321,</text>
<text x="377.70" y="12.20" font-family="Liberation Serif" font-size="13.3" font-weight="normal" fill="#000" text-anchor="start" textLength="17.3" lengthAdjust="spacingAndGlyphs" stroke="#000" stroke-width="0.25" stroke-linejoin="round">log</text>
<text x="403.90" y="12.20" font-family="Liberation Serif" font-size="13.3" font-weight="normal" fill="#000" text-anchor="start" textLength="7.1" lengthAdjust="spacingAndGlyphs" stroke="#000" stroke-width="0.25" stroke-linejoin="round">N</text>
<text x="436.30" y="12.20" font-family="Liberation Serif" font-size="13.3" font-weight="normal" fill="#000" text-anchor="start" textLength="69.7" lengthAdjust="spacingAndGlyphs" stroke="#000" stroke-width="0.25" stroke-linejoin="round">19.59&#177;0.10</text>
<text x="278.50" y="15.40" font-family="Liberation Sans" font-size="7.2" font-weight="bold" fill="#000" text-anchor="start" textLength="13.5" lengthAdjust="spacingAndGlyphs">abs</text>
<path d="M299.30,7.1h8.0M299.30,9.8h8.0" stroke="#000" stroke-width="1.15" fill="none"/>
<path d="M419.25,7.1h8.0M419.25,9.8h8.0" stroke="#000" stroke-width="1.15" fill="none"/>
<text x="164.00" y="59.30" font-family="Liberation Serif" font-size="11.5" font-weight="bold" fill="#000" text-anchor="end" stroke="#000" stroke-width="0.3">1</text>
<text x="157.90" y="156.85" font-family="Liberation Sans" font-size="11.4" font-weight="bold" fill="#000" text-anchor="start" textLength="6.3" lengthAdjust="spacingAndGlyphs" stroke="#000" stroke-width="0.3">0</text>
<text x="164.00" y="196.55" font-family="Liberation Serif" font-size="11.5" font-weight="bold" fill="#000" text-anchor="end" stroke="#000" stroke-width="0.3">1</text>
<text x="157.90" y="294.10" font-family="Liberation Sans" font-size="11.4" font-weight="bold" fill="#000" text-anchor="start" textLength="6.3" lengthAdjust="spacingAndGlyphs" stroke="#000" stroke-width="0.3">0</text>
<text x="164.00" y="333.70" font-family="Liberation Serif" font-size="11.5" font-weight="bold" fill="#000" text-anchor="end" stroke="#000" stroke-width="0.3">1</text>
<text x="157.90" y="431.25" font-family="Liberation Sans" font-size="11.4" font-weight="bold" fill="#000" text-anchor="start" textLength="6.3" lengthAdjust="spacingAndGlyphs" stroke="#000" stroke-width="0.3">0</text>
<text x="164.00" y="470.70" font-family="Liberation Serif" font-size="11.5" font-weight="bold" fill="#000" text-anchor="end" stroke="#000" stroke-width="0.3">1</text>
<text x="157.90" y="568.25" font-family="Liberation Sans" font-size="11.4" font-weight="bold" fill="#000" text-anchor="start" textLength="6.3" lengthAdjust="spacingAndGlyphs" stroke="#000" stroke-width="0.3">0</text>
<text x="190.22" y="597.90" font-family="Liberation Sans" font-size="11.4" font-weight="bold" fill="#000" text-anchor="start" textLength="27.2" lengthAdjust="spacingAndGlyphs">&#8722;400</text>
<text x="230.69" y="597.90" font-family="Liberation Sans" font-size="11.4" font-weight="bold" fill="#000" text-anchor="start" textLength="27.2" lengthAdjust="spacingAndGlyphs">&#8722;300</text>
<text x="271.16" y="597.90" font-family="Liberation Sans" font-size="11.4" font-weight="bold" fill="#000" text-anchor="start" textLength="27.2" lengthAdjust="spacingAndGlyphs">&#8722;200</text>
<text x="311.63" y="597.90" font-family="Liberation Sans" font-size="11.4" font-weight="bold" fill="#000" text-anchor="start" textLength="27.2" lengthAdjust="spacingAndGlyphs">&#8722;100</text>
<text x="362.55" y="597.90" font-family="Liberation Sans" font-size="11.4" font-weight="bold" fill="#000" text-anchor="start" textLength="6.3" lengthAdjust="spacingAndGlyphs">0</text>
<text x="396.87" y="597.90" font-family="Liberation Sans" font-size="11.4" font-weight="bold" fill="#000" text-anchor="start" textLength="18.6" lengthAdjust="spacingAndGlyphs">100</text>
<text x="437.34" y="597.90" font-family="Liberation Sans" font-size="11.4" font-weight="bold" fill="#000" text-anchor="start" textLength="18.6" lengthAdjust="spacingAndGlyphs">200</text>
<text x="477.81" y="597.90" font-family="Liberation Sans" font-size="11.4" font-weight="bold" fill="#000" text-anchor="start" textLength="18.6" lengthAdjust="spacingAndGlyphs">300</text>
<g fill="#ff0000"><rect x="448.20" y="125.70" width="1.80" height="8.50"/><rect x="451.50" y="125.70" width="1.80" height="8.50"/><rect x="448.20" y="129.20" width="5.00" height="1.40"/><rect x="447.50" y="125.70" width="3.10" height="1.10"/><rect x="447.50" y="133.10" width="3.10" height="1.10"/><rect x="450.90" y="125.70" width="3.10" height="1.10"/><rect x="450.90" y="133.10" width="3.10" height="1.10"/><rect x="461.90" y="125.70" width="1.80" height="8.50"/><rect x="460.90" y="125.70" width="3.80" height="1.10"/><rect x="460.90" y="133.10" width="3.80" height="1.10"/></g>
<text x="470.70" y="134.20" font-family="Liberation Sans" font-size="12" font-weight="bold" fill="#ff0000" text-anchor="start" textLength="20.4" lengthAdjust="spacingAndGlyphs">937</text>
<g fill="#ff0000"><rect x="448.20" y="262.95" width="1.80" height="8.50"/><rect x="451.50" y="262.95" width="1.80" height="8.50"/><rect x="448.20" y="266.45" width="5.00" height="1.40"/><rect x="447.50" y="262.95" width="3.10" height="1.10"/><rect x="447.50" y="270.35" width="3.10" height="1.10"/><rect x="450.90" y="262.95" width="3.10" height="1.10"/><rect x="450.90" y="270.35" width="3.10" height="1.10"/><rect x="461.90" y="262.95" width="1.80" height="8.50"/><rect x="460.90" y="262.95" width="3.80" height="1.10"/><rect x="460.90" y="270.35" width="3.80" height="1.10"/></g>
<text x="470.70" y="271.45" font-family="Liberation Sans" font-size="12" font-weight="bold" fill="#ff0000" text-anchor="start" textLength="20.4" lengthAdjust="spacingAndGlyphs">949</text>
<g fill="#ff0000"><rect x="448.20" y="400.20" width="1.80" height="8.50"/><rect x="451.50" y="400.20" width="1.80" height="8.50"/><rect x="448.20" y="403.70" width="5.00" height="1.40"/><rect x="447.50" y="400.20" width="3.10" height="1.10"/><rect x="447.50" y="407.60" width="3.10" height="1.10"/><rect x="450.90" y="400.20" width="3.10" height="1.10"/><rect x="450.90" y="407.60" width="3.10" height="1.10"/><rect x="461.90" y="400.20" width="1.80" height="8.50"/><rect x="460.90" y="400.20" width="3.80" height="1.10"/><rect x="460.90" y="407.60" width="3.80" height="1.10"/></g>
<text x="470.70" y="408.70" font-family="Liberation Sans" font-size="12" font-weight="bold" fill="#ff0000" text-anchor="start" textLength="20.4" lengthAdjust="spacingAndGlyphs">972</text>
<g fill="#ff0000"><rect x="448.20" y="537.45" width="1.80" height="8.50"/><rect x="451.50" y="537.45" width="1.80" height="8.50"/><rect x="448.20" y="540.95" width="5.00" height="1.40"/><rect x="447.50" y="537.45" width="3.10" height="1.10"/><rect x="447.50" y="544.85" width="3.10" height="1.10"/><rect x="450.90" y="537.45" width="3.10" height="1.10"/><rect x="450.90" y="544.85" width="3.10" height="1.10"/><rect x="461.90" y="537.45" width="1.80" height="8.50"/><rect x="460.90" y="537.45" width="3.80" height="1.10"/><rect x="460.90" y="544.85" width="3.80" height="1.10"/></g>
<text x="472.10" y="545.95" font-family="Liberation Sans" font-size="12" font-weight="bold" fill="#ff0000" text-anchor="start" textLength="26.3" lengthAdjust="spacingAndGlyphs">1025</text>
<text x="239.50" y="628.10" font-family="Liberation Serif" font-size="16.5" font-weight="normal" fill="#000" text-anchor="start" textLength="63.7" lengthAdjust="spacingAndGlyphs" stroke="#000" stroke-width="0.65" stroke-linejoin="round">Relative</text>
<text x="313.70" y="628.10" font-family="Liberation Serif" font-size="16.5" font-weight="normal" fill="#000" text-anchor="start" textLength="60.5" lengthAdjust="spacingAndGlyphs" stroke="#000" stroke-width="0.65" stroke-linejoin="round">Velocity</text>
<text x="384.60" y="628.10" font-family="Liberation Serif" font-size="16.5" font-weight="normal" fill="#000" text-anchor="start" textLength="5.0" lengthAdjust="spacingAndGlyphs" stroke="#000" stroke-width="0.65" stroke-linejoin="round">(</text>
<text x="391.30" y="628.10" font-family="Liberation Serif" font-size="16.5" font-weight="normal" fill="#000" text-anchor="start" textLength="23.9" lengthAdjust="spacingAndGlyphs" stroke="#000" stroke-width="0.65" stroke-linejoin="round">km</text>
<text x="424.50" y="628.10" font-family="Liberation Serif" font-size="16.5" font-weight="normal" fill="#000" text-anchor="start" textLength="7.5" lengthAdjust="spacingAndGlyphs" stroke="#000" stroke-width="0.65" stroke-linejoin="round">s</text>
<text x="447.00" y="628.10" font-family="Liberation Serif" font-size="16.5" font-weight="normal" fill="#000" text-anchor="start" textLength="5.0" lengthAdjust="spacingAndGlyphs" stroke="#000" stroke-width="0.65" stroke-linejoin="round">)</text>
<text x="432.90" y="624.50" font-family="Liberation Serif" font-size="8.5" font-weight="bold" fill="#000" text-anchor="start" textLength="12.3" lengthAdjust="spacingAndGlyphs" stroke="#000" stroke-width="0.3">&#8722;1</text>
<text transform="translate(124.3,376.3) rotate(-90)" font-family="Liberation Serif" font-size="16.5" font-weight="normal" stroke="#000" stroke-width="0.55" stroke-linejoin="round" textLength="87.6" lengthAdjust="spacingAndGlyphs">Normalised</text>
<text transform="translate(124.3,275.3) rotate(-90)" font-family="Liberation Serif" font-size="16.5" font-weight="normal" stroke="#000" stroke-width="0.55" stroke-linejoin="round" textLength="31.8" lengthAdjust="spacingAndGlyphs">Flux</text>
</svg>
</body></html>
